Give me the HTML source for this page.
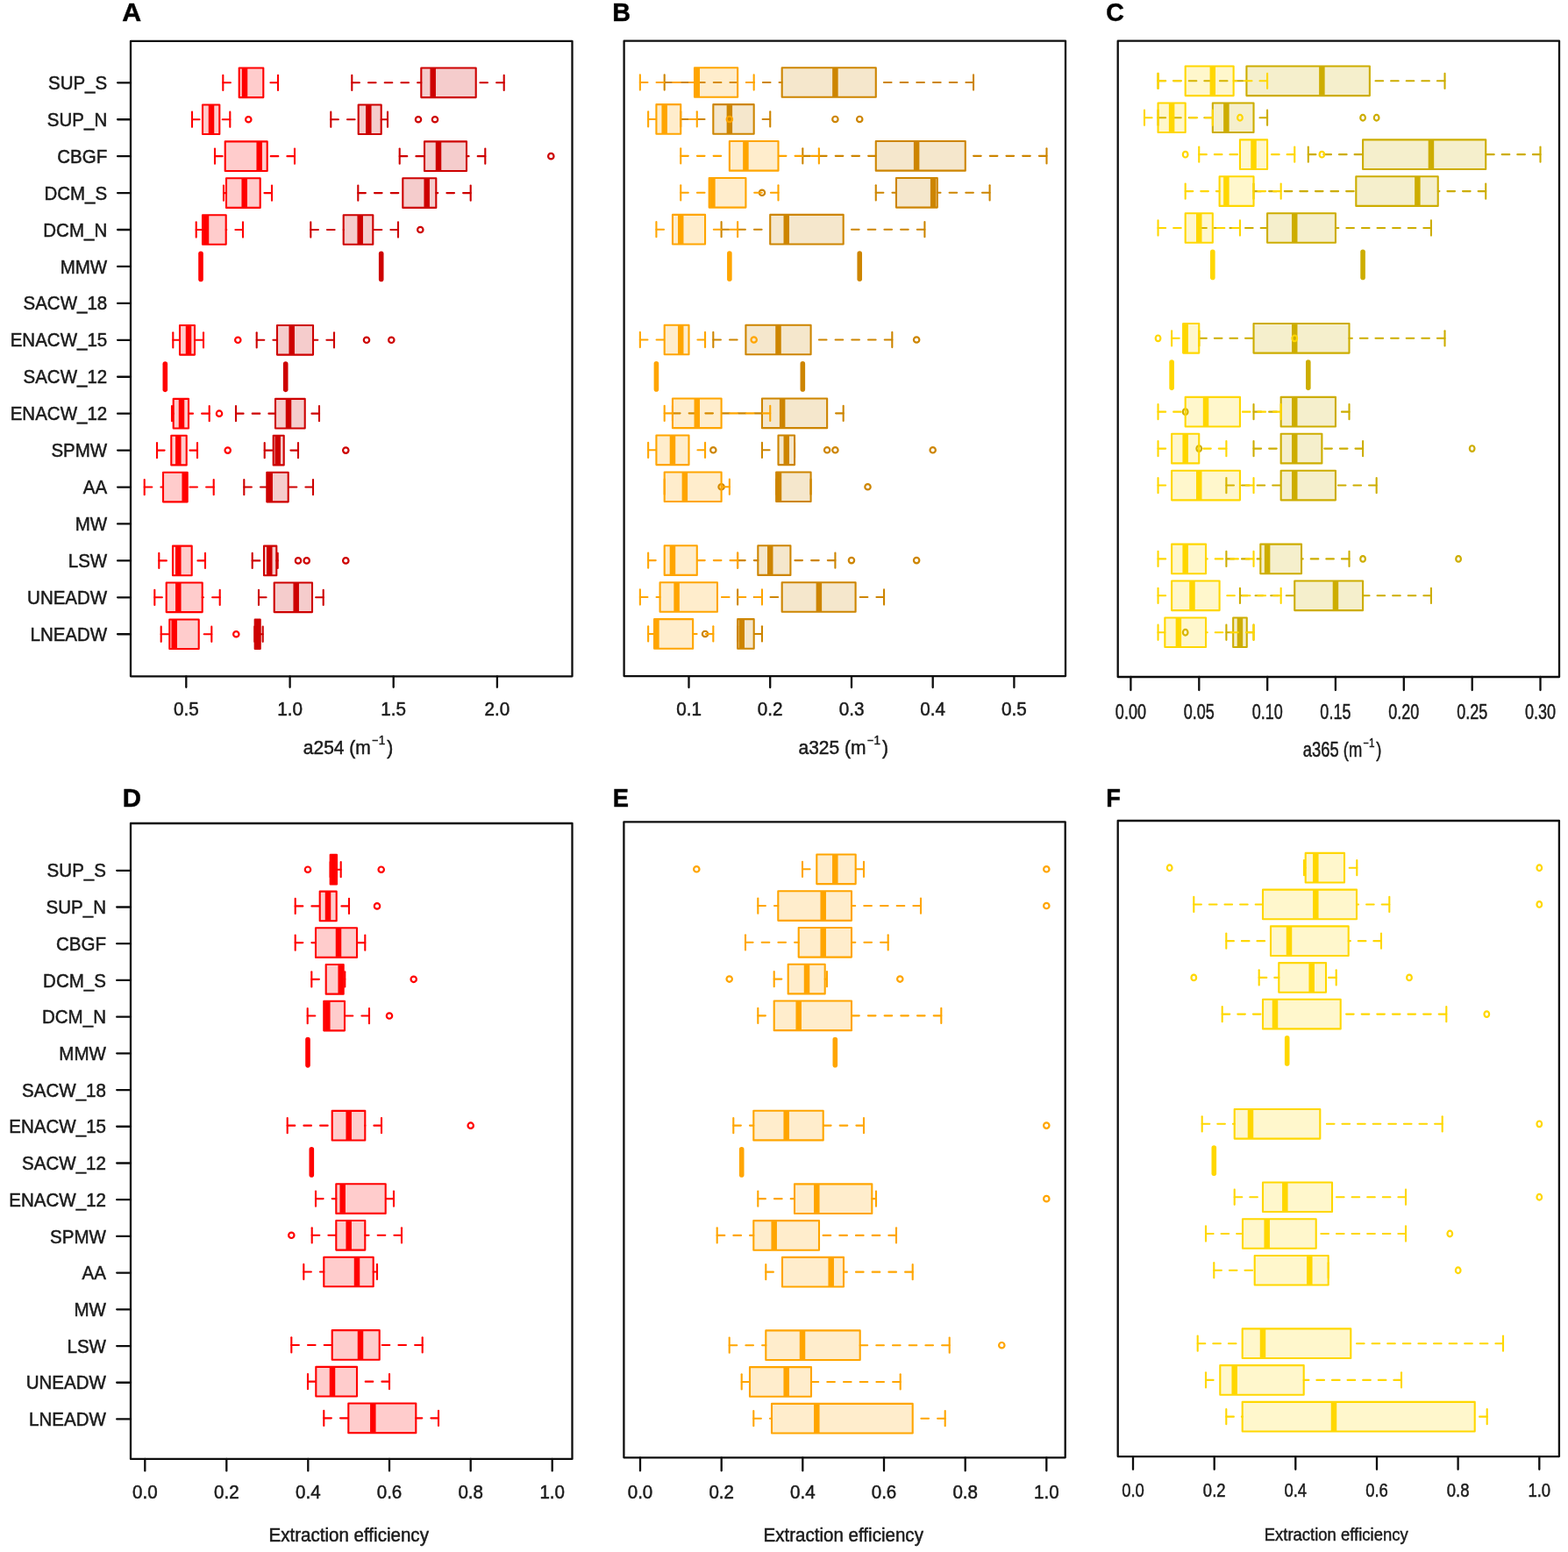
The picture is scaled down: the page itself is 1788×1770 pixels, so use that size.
<!DOCTYPE html>
<html lang="en">
<head>
<meta charset="utf-8">
<title>Box plots</title>
<style>
html,body{margin:0;padding:0;background:#fff;}
body{width:1788px;height:1770px;overflow:hidden;}
svg{display:block;font-family:"Liberation Sans",Arial,Helvetica,sans-serif;fill:#1a1a1a;}
text{stroke:#1a1a1a;stroke-width:0.5px;paint-order:stroke}
.o{stroke-width:2.2}
.m .w{stroke-dasharray:8.6 10.1;stroke-linecap:round}
.n .w{stroke-dasharray:8.6 9;stroke-linecap:round}
.c{stroke-linecap:round}
</style>
</head>
<body>
<svg width="1788" height="1770" viewBox="0 0 1788 1770">
<rect width="1788" height="1770" fill="#fff"/>
<g id="panelA">
<g class="m" stroke="#cd0000" stroke-width="2.1" fill="none">
<rect x="480.3" y="77.5" width="62.4" height="33.6" fill="rgba(205,0,0,0.2)" stroke="none"/>
<line x1="493.7" y1="77.5" x2="493.7" y2="111.1" stroke-width="6.5"/>
<line class="w" x1="401.3" y1="94.3" x2="480.3" y2="94.3"/>
<line class="w" x1="574.7" y1="94.3" x2="542.7" y2="94.3"/>
<line class="c" x1="401.3" y1="85.7" x2="401.3" y2="102.9"/>
<line class="c" x1="574.7" y1="85.7" x2="574.7" y2="102.9"/>
<rect x="480.3" y="77.5" width="62.4" height="33.6" stroke-linejoin="round"/>
<rect x="408.7" y="119.43" width="26" height="33.6" fill="rgba(205,0,0,0.2)" stroke="none"/>
<line x1="420.3" y1="119.43" x2="420.3" y2="153.03" stroke-width="6.5"/>
<line class="w" x1="377.3" y1="136.23" x2="408.7" y2="136.23"/>
<line class="w" x1="442" y1="136.23" x2="434.7" y2="136.23"/>
<line class="c" x1="377.3" y1="127.63" x2="377.3" y2="144.83"/>
<line class="c" x1="442" y1="127.63" x2="442" y2="144.83"/>
<rect x="408.7" y="119.43" width="26" height="33.6" stroke-linejoin="round"/>
<circle class="o" cx="477" cy="136.23" r="3.2"/>
<circle class="o" cx="496" cy="136.23" r="3.2"/>
<rect x="484" y="161.36" width="48" height="33.6" fill="rgba(205,0,0,0.2)" stroke="none"/>
<line x1="500" y1="161.36" x2="500" y2="194.96" stroke-width="6.5"/>
<line class="w" x1="455.7" y1="178.16" x2="484" y2="178.16"/>
<line class="w" x1="553.3" y1="178.16" x2="532" y2="178.16"/>
<line class="c" x1="455.7" y1="169.56" x2="455.7" y2="186.76"/>
<line class="c" x1="553.3" y1="169.56" x2="553.3" y2="186.76"/>
<rect x="484" y="161.36" width="48" height="33.6" stroke-linejoin="round"/>
<circle class="o" cx="628.3" cy="178.16" r="3.2"/>
<rect x="459.3" y="203.29" width="38" height="33.6" fill="rgba(205,0,0,0.2)" stroke="none"/>
<line x1="486.7" y1="203.29" x2="486.7" y2="236.89" stroke-width="6.5"/>
<line class="w" x1="408.3" y1="220.09" x2="459.3" y2="220.09"/>
<line class="w" x1="536.7" y1="220.09" x2="497.3" y2="220.09"/>
<line class="c" x1="408.3" y1="211.49" x2="408.3" y2="228.69"/>
<line class="c" x1="536.7" y1="211.49" x2="536.7" y2="228.69"/>
<rect x="459.3" y="203.29" width="38" height="33.6" stroke-linejoin="round"/>
<rect x="391.7" y="245.22" width="33.6" height="33.6" fill="rgba(205,0,0,0.2)" stroke="none"/>
<line x1="410.7" y1="245.22" x2="410.7" y2="278.82" stroke-width="6.5"/>
<line class="w" x1="354.3" y1="262.02" x2="391.7" y2="262.02"/>
<line class="w" x1="454" y1="262.02" x2="425.3" y2="262.02"/>
<line class="c" x1="354.3" y1="253.42" x2="354.3" y2="270.62"/>
<line class="c" x1="454" y1="253.42" x2="454" y2="270.62"/>
<rect x="391.7" y="245.22" width="33.6" height="33.6" stroke-linejoin="round"/>
<circle class="o" cx="479.3" cy="262.02" r="3.2"/>
<line x1="434.7" y1="289.35" x2="434.7" y2="318.55" stroke-width="5.6" stroke-linecap="round"/>
<rect x="316" y="371.01" width="41" height="33.6" fill="rgba(205,0,0,0.2)" stroke="none"/>
<line x1="332.7" y1="371.01" x2="332.7" y2="404.61" stroke-width="6.5"/>
<line class="w" x1="292.7" y1="387.81" x2="316" y2="387.81"/>
<line class="w" x1="381" y1="387.81" x2="357" y2="387.81"/>
<line class="c" x1="292.7" y1="379.21" x2="292.7" y2="396.41"/>
<line class="c" x1="381" y1="379.21" x2="381" y2="396.41"/>
<rect x="316" y="371.01" width="41" height="33.6" stroke-linejoin="round"/>
<circle class="o" cx="418" cy="387.81" r="3.2"/>
<circle class="o" cx="446.3" cy="387.81" r="3.2"/>
<line x1="325.7" y1="415.14" x2="325.7" y2="444.34" stroke-width="5.6" stroke-linecap="round"/>
<rect x="314" y="454.87" width="33.7" height="33.6" fill="rgba(205,0,0,0.2)" stroke="none"/>
<line x1="329" y1="454.87" x2="329" y2="488.47" stroke-width="6.5"/>
<line class="w" x1="269" y1="471.67" x2="314" y2="471.67"/>
<line class="w" x1="364" y1="471.67" x2="347.7" y2="471.67"/>
<line class="c" x1="269" y1="463.07" x2="269" y2="480.27"/>
<line class="c" x1="364" y1="463.07" x2="364" y2="480.27"/>
<rect x="314" y="454.87" width="33.7" height="33.6" stroke-linejoin="round"/>
<rect x="311.7" y="496.8" width="12" height="33.6" fill="rgba(205,0,0,0.2)" stroke="none"/>
<line x1="316.7" y1="496.8" x2="316.7" y2="530.4" stroke-width="6.5"/>
<line class="w" x1="301.7" y1="513.6" x2="311.7" y2="513.6"/>
<line class="w" x1="340" y1="513.6" x2="323.7" y2="513.6"/>
<line class="c" x1="301.7" y1="505" x2="301.7" y2="522.2"/>
<line class="c" x1="340" y1="505" x2="340" y2="522.2"/>
<rect x="311.7" y="496.8" width="12" height="33.6" stroke-linejoin="round"/>
<circle class="o" cx="394.3" cy="513.6" r="3.2"/>
<rect x="304.3" y="538.73" width="24.4" height="33.6" fill="rgba(205,0,0,0.2)" stroke="none"/>
<line x1="307.7" y1="538.73" x2="307.7" y2="572.33" stroke-width="6.5"/>
<line class="w" x1="278.3" y1="555.53" x2="304.3" y2="555.53"/>
<line class="w" x1="357" y1="555.53" x2="328.7" y2="555.53"/>
<line class="c" x1="278.3" y1="546.93" x2="278.3" y2="564.13"/>
<line class="c" x1="357" y1="546.93" x2="357" y2="564.13"/>
<rect x="304.3" y="538.73" width="24.4" height="33.6" stroke-linejoin="round"/>
<rect x="301" y="622.59" width="14.3" height="33.6" fill="rgba(205,0,0,0.2)" stroke="none"/>
<line x1="307.3" y1="622.59" x2="307.3" y2="656.19" stroke-width="6.5"/>
<line class="w" x1="287.7" y1="639.39" x2="301" y2="639.39"/>
<line class="w" x1="316.7" y1="639.39" x2="315.3" y2="639.39"/>
<line class="c" x1="287.7" y1="630.79" x2="287.7" y2="647.99"/>
<line class="c" x1="316.7" y1="630.79" x2="316.7" y2="647.99"/>
<rect x="301" y="622.59" width="14.3" height="33.6" stroke-linejoin="round"/>
<circle class="o" cx="340" cy="639.39" r="3.2"/>
<circle class="o" cx="349.7" cy="639.39" r="3.2"/>
<circle class="o" cx="394.3" cy="639.39" r="3.2"/>
<rect x="312.7" y="664.52" width="43.3" height="33.6" fill="rgba(205,0,0,0.2)" stroke="none"/>
<line x1="337.7" y1="664.52" x2="337.7" y2="698.12" stroke-width="6.5"/>
<line class="w" x1="295" y1="681.32" x2="312.7" y2="681.32"/>
<line class="w" x1="368.7" y1="681.32" x2="356" y2="681.32"/>
<line class="c" x1="295" y1="672.72" x2="295" y2="689.92"/>
<line class="c" x1="368.7" y1="672.72" x2="368.7" y2="689.92"/>
<rect x="312.7" y="664.52" width="43.3" height="33.6" stroke-linejoin="round"/>
<rect x="290.7" y="706.45" width="6" height="33.6" fill="rgba(205,0,0,0.2)" stroke="none"/>
<line x1="293.3" y1="706.45" x2="293.3" y2="740.05" stroke-width="6.5"/>
<line class="w" x1="299.7" y1="723.25" x2="296.7" y2="723.25"/>
<line class="c" x1="290.3" y1="714.65" x2="290.3" y2="731.85"/>
<line class="c" x1="299.7" y1="714.65" x2="299.7" y2="731.85"/>
<rect x="290.7" y="706.45" width="6" height="33.6" stroke-linejoin="round"/>
</g>
<g class="m" stroke="#ff0000" stroke-width="2.1" fill="none">
<rect x="272.7" y="77.5" width="27.6" height="33.6" fill="rgba(255,0,0,0.2)" stroke="none"/>
<line x1="279" y1="77.5" x2="279" y2="111.1" stroke-width="6.5"/>
<line class="w" x1="254.3" y1="94.3" x2="272.7" y2="94.3"/>
<line class="w" x1="317" y1="94.3" x2="300.3" y2="94.3"/>
<line class="c" x1="254.3" y1="85.7" x2="254.3" y2="102.9"/>
<line class="c" x1="317" y1="85.7" x2="317" y2="102.9"/>
<rect x="272.7" y="77.5" width="27.6" height="33.6" stroke-linejoin="round"/>
<rect x="231" y="119.43" width="19.3" height="33.6" fill="rgba(255,0,0,0.2)" stroke="none"/>
<line x1="241" y1="119.43" x2="241" y2="153.03" stroke-width="6.5"/>
<line class="w" x1="219" y1="136.23" x2="231" y2="136.23"/>
<line class="w" x1="262.3" y1="136.23" x2="250.3" y2="136.23"/>
<line class="c" x1="219" y1="127.63" x2="219" y2="144.83"/>
<line class="c" x1="262.3" y1="127.63" x2="262.3" y2="144.83"/>
<rect x="231" y="119.43" width="19.3" height="33.6" stroke-linejoin="round"/>
<circle class="o" cx="283.3" cy="136.23" r="3.2"/>
<rect x="256.7" y="161.36" width="48" height="33.6" fill="rgba(255,0,0,0.2)" stroke="none"/>
<line x1="295.7" y1="161.36" x2="295.7" y2="194.96" stroke-width="6.5"/>
<line class="w" x1="245" y1="178.16" x2="256.7" y2="178.16"/>
<line class="w" x1="336" y1="178.16" x2="304.7" y2="178.16"/>
<line class="c" x1="245" y1="169.56" x2="245" y2="186.76"/>
<line class="c" x1="336" y1="169.56" x2="336" y2="186.76"/>
<rect x="256.7" y="161.36" width="48" height="33.6" stroke-linejoin="round"/>
<rect x="258" y="203.29" width="38.7" height="33.6" fill="rgba(255,0,0,0.2)" stroke="none"/>
<line x1="278.7" y1="203.29" x2="278.7" y2="236.89" stroke-width="6.5"/>
<line class="w" x1="255" y1="220.09" x2="258" y2="220.09"/>
<line class="w" x1="310" y1="220.09" x2="296.7" y2="220.09"/>
<line class="c" x1="255" y1="211.49" x2="255" y2="228.69"/>
<line class="c" x1="310" y1="211.49" x2="310" y2="228.69"/>
<rect x="258" y="203.29" width="38.7" height="33.6" stroke-linejoin="round"/>
<rect x="231" y="245.22" width="26.7" height="33.6" fill="rgba(255,0,0,0.2)" stroke="none"/>
<line x1="235" y1="245.22" x2="235" y2="278.82" stroke-width="6.5"/>
<line class="w" x1="223.7" y1="262.02" x2="231" y2="262.02"/>
<line class="w" x1="277" y1="262.02" x2="257.7" y2="262.02"/>
<line class="c" x1="223.7" y1="253.42" x2="223.7" y2="270.62"/>
<line class="c" x1="277" y1="253.42" x2="277" y2="270.62"/>
<rect x="231" y="245.22" width="26.7" height="33.6" stroke-linejoin="round"/>
<line x1="229" y1="289.35" x2="229" y2="318.55" stroke-width="5.6" stroke-linecap="round"/>
<rect x="205" y="371.01" width="17" height="33.6" fill="rgba(255,0,0,0.2)" stroke="none"/>
<line x1="215" y1="371.01" x2="215" y2="404.61" stroke-width="6.5"/>
<line class="w" x1="197.3" y1="387.81" x2="205" y2="387.81"/>
<line class="w" x1="232" y1="387.81" x2="222" y2="387.81"/>
<line class="c" x1="197.3" y1="379.21" x2="197.3" y2="396.41"/>
<line class="c" x1="232" y1="379.21" x2="232" y2="396.41"/>
<rect x="205" y="371.01" width="17" height="33.6" stroke-linejoin="round"/>
<circle class="o" cx="271.3" cy="387.81" r="3.2"/>
<line x1="188.3" y1="415.14" x2="188.3" y2="444.34" stroke-width="5.6" stroke-linecap="round"/>
<rect x="197.7" y="454.87" width="17.3" height="33.6" fill="rgba(255,0,0,0.2)" stroke="none"/>
<line x1="207" y1="454.87" x2="207" y2="488.47" stroke-width="6.5"/>
<line class="w" x1="196" y1="471.67" x2="197.7" y2="471.67"/>
<line class="w" x1="238.7" y1="471.67" x2="215" y2="471.67"/>
<line class="c" x1="196" y1="463.07" x2="196" y2="480.27"/>
<line class="c" x1="238.7" y1="463.07" x2="238.7" y2="480.27"/>
<rect x="197.7" y="454.87" width="17.3" height="33.6" stroke-linejoin="round"/>
<circle class="o" cx="250" cy="471.67" r="3.2"/>
<rect x="195.3" y="496.8" width="17.4" height="33.6" fill="rgba(255,0,0,0.2)" stroke="none"/>
<line x1="203.3" y1="496.8" x2="203.3" y2="530.4" stroke-width="6.5"/>
<line class="w" x1="179" y1="513.6" x2="195.3" y2="513.6"/>
<line class="w" x1="225" y1="513.6" x2="212.7" y2="513.6"/>
<line class="c" x1="179" y1="505" x2="179" y2="522.2"/>
<line class="c" x1="225" y1="505" x2="225" y2="522.2"/>
<rect x="195.3" y="496.8" width="17.4" height="33.6" stroke-linejoin="round"/>
<circle class="o" cx="259.7" cy="513.6" r="3.2"/>
<rect x="186" y="538.73" width="27.7" height="33.6" fill="rgba(255,0,0,0.2)" stroke="none"/>
<line x1="210.7" y1="538.73" x2="210.7" y2="572.33" stroke-width="6.5"/>
<line class="w" x1="164.7" y1="555.53" x2="186" y2="555.53"/>
<line class="w" x1="243.7" y1="555.53" x2="213.7" y2="555.53"/>
<line class="c" x1="164.7" y1="546.93" x2="164.7" y2="564.13"/>
<line class="c" x1="243.7" y1="546.93" x2="243.7" y2="564.13"/>
<rect x="186" y="538.73" width="27.7" height="33.6" stroke-linejoin="round"/>
<rect x="197" y="622.59" width="21.7" height="33.6" fill="rgba(255,0,0,0.2)" stroke="none"/>
<line x1="203.3" y1="622.59" x2="203.3" y2="656.19" stroke-width="6.5"/>
<line class="w" x1="181.3" y1="639.39" x2="197" y2="639.39"/>
<line class="w" x1="234" y1="639.39" x2="218.7" y2="639.39"/>
<line class="c" x1="181.3" y1="630.79" x2="181.3" y2="647.99"/>
<line class="c" x1="234" y1="630.79" x2="234" y2="647.99"/>
<rect x="197" y="622.59" width="21.7" height="33.6" stroke-linejoin="round"/>
<rect x="189.7" y="664.52" width="41" height="33.6" fill="rgba(255,0,0,0.2)" stroke="none"/>
<line x1="203.3" y1="664.52" x2="203.3" y2="698.12" stroke-width="6.5"/>
<line class="w" x1="176.3" y1="681.32" x2="189.7" y2="681.32"/>
<line class="w" x1="250.7" y1="681.32" x2="230.7" y2="681.32"/>
<line class="c" x1="176.3" y1="672.72" x2="176.3" y2="689.92"/>
<line class="c" x1="250.7" y1="672.72" x2="250.7" y2="689.92"/>
<rect x="189.7" y="664.52" width="41" height="33.6" stroke-linejoin="round"/>
<rect x="193.3" y="706.45" width="33.4" height="33.6" fill="rgba(255,0,0,0.2)" stroke="none"/>
<line x1="198.7" y1="706.45" x2="198.7" y2="740.05" stroke-width="6.5"/>
<line class="w" x1="183.7" y1="723.25" x2="193.3" y2="723.25"/>
<line class="w" x1="241.3" y1="723.25" x2="226.7" y2="723.25"/>
<line class="c" x1="183.7" y1="714.65" x2="183.7" y2="731.85"/>
<line class="c" x1="241.3" y1="714.65" x2="241.3" y2="731.85"/>
<rect x="193.3" y="706.45" width="33.4" height="33.6" stroke-linejoin="round"/>
<circle class="o" cx="269.3" cy="723.25" r="3.2"/>
</g>
<rect x="149" y="46.9" width="503.5" height="724.4" fill="none" stroke="#0d0d0d" stroke-width="2.3" stroke-linejoin="round"/>
<path d="M212.3 771.3v12.5M330.6 771.3v12.5M448.7 771.3v12.5M566.9 771.3v12.5" stroke="#0d0d0d" stroke-width="2.3" stroke-linecap="round" fill="none"/>
<text transform="translate(212.3 815.9) scale(0.94 1)" text-anchor="middle" font-size="22" font-weight="normal">0.5</text>
<text transform="translate(330.6 815.9) scale(0.94 1)" text-anchor="middle" font-size="22" font-weight="normal">1.0</text>
<text transform="translate(448.7 815.9) scale(0.94 1)" text-anchor="middle" font-size="22" font-weight="normal">1.5</text>
<text transform="translate(566.9 815.9) scale(0.94 1)" text-anchor="middle" font-size="22" font-weight="normal">2.0</text>
<text transform="translate(397 859.9) scale(0.93 1)" text-anchor="middle" font-size="22.6" font-weight="normal">a254 (m<tspan dy="-10.62" dx="1.6" font-size="13.11">−</tspan><tspan font-size="14.46" dx="0.3">1</tspan><tspan dy="10.62" dx="2.2">)</tspan></text>
<path d="M149 94.3h-14.9M149 136.23h-14.9M149 178.16h-14.9M149 220.09h-14.9M149 262.02h-14.9M149 303.95h-14.9M149 345.88h-14.9M149 387.81h-14.9M149 429.74h-14.9M149 471.67h-14.9M149 513.6h-14.9M149 555.53h-14.9M149 597.46h-14.9M149 639.39h-14.9M149 681.32h-14.9M149 723.25h-14.9" stroke="#0d0d0d" stroke-width="2.3" stroke-linecap="round" fill="none"/>
<text transform="translate(122.2 101.9) scale(0.95 1)" text-anchor="end" font-size="21.6" font-weight="normal">SUP_S</text>
<text transform="translate(122.2 143.83) scale(0.95 1)" text-anchor="end" font-size="21.6" font-weight="normal">SUP_N</text>
<text transform="translate(122.2 185.76) scale(0.95 1)" text-anchor="end" font-size="21.6" font-weight="normal">CBGF</text>
<text transform="translate(122.2 227.69) scale(0.95 1)" text-anchor="end" font-size="21.6" font-weight="normal">DCM_S</text>
<text transform="translate(122.2 269.62) scale(0.95 1)" text-anchor="end" font-size="21.6" font-weight="normal">DCM_N</text>
<text transform="translate(122.2 311.55) scale(0.95 1)" text-anchor="end" font-size="21.6" font-weight="normal">MMW</text>
<text transform="translate(122.2 353.48) scale(0.95 1)" text-anchor="end" font-size="21.6" font-weight="normal">SACW_18</text>
<text transform="translate(122.2 395.41) scale(0.95 1)" text-anchor="end" font-size="21.6" font-weight="normal">ENACW_15</text>
<text transform="translate(122.2 437.34) scale(0.95 1)" text-anchor="end" font-size="21.6" font-weight="normal">SACW_12</text>
<text transform="translate(122.2 479.27) scale(0.95 1)" text-anchor="end" font-size="21.6" font-weight="normal">ENACW_12</text>
<text transform="translate(122.2 521.2) scale(0.95 1)" text-anchor="end" font-size="21.6" font-weight="normal">SPMW</text>
<text transform="translate(122.2 563.13) scale(0.95 1)" text-anchor="end" font-size="21.6" font-weight="normal">AA</text>
<text transform="translate(122.2 605.06) scale(0.95 1)" text-anchor="end" font-size="21.6" font-weight="normal">MW</text>
<text transform="translate(122.2 646.99) scale(0.95 1)" text-anchor="end" font-size="21.6" font-weight="normal">LSW</text>
<text transform="translate(122.2 688.92) scale(0.95 1)" text-anchor="end" font-size="21.6" font-weight="normal">UNEADW</text>
<text transform="translate(122.2 730.85) scale(0.95 1)" text-anchor="end" font-size="21.6" font-weight="normal">LNEADW</text>
<text x="139.2" y="24.1" text-anchor="start" font-size="30.3" font-weight="bold" fill="#000" stroke="none">A</text>
</g>
<g id="panelB">
<g class="m" stroke="#cd8500" stroke-width="2.1" fill="none">
<rect x="891.68" y="77.2" width="107.1" height="33.6" fill="rgba(205,133,0,0.2)" stroke="none"/>
<line x1="952.41" y1="77.2" x2="952.41" y2="110.8" stroke-width="6.5"/>
<line class="w" x1="757.69" y1="94" x2="891.68" y2="94"/>
<line class="w" x1="1110.04" y1="94" x2="998.77" y2="94"/>
<line class="c" x1="757.69" y1="85.4" x2="757.69" y2="102.6"/>
<line class="c" x1="1110.04" y1="85.4" x2="1110.04" y2="102.6"/>
<rect x="891.68" y="77.2" width="107.1" height="33.6" stroke-linejoin="round"/>
<rect x="813.32" y="119.13" width="46.36" height="33.6" fill="rgba(205,133,0,0.2)" stroke="none"/>
<line x1="831.87" y1="119.13" x2="831.87" y2="152.73" stroke-width="6.5"/>
<line class="w" x1="776.23" y1="135.93" x2="813.32" y2="135.93"/>
<line class="w" x1="878.23" y1="135.93" x2="859.68" y2="135.93"/>
<line class="c" x1="776.23" y1="127.33" x2="776.23" y2="144.53"/>
<line class="c" x1="878.23" y1="127.33" x2="878.23" y2="144.53"/>
<rect x="813.32" y="119.13" width="46.36" height="33.6" stroke-linejoin="round"/>
<circle class="o" cx="952.41" cy="135.93" r="3.2"/>
<circle class="o" cx="980.23" cy="135.93" r="3.2"/>
<rect x="998.77" y="161.06" width="102" height="33.6" fill="rgba(205,133,0,0.2)" stroke="none"/>
<line x1="1045.13" y1="161.06" x2="1045.13" y2="194.66" stroke-width="6.5"/>
<line class="w" x1="915.32" y1="177.86" x2="998.77" y2="177.86"/>
<line class="w" x1="1193.49" y1="177.86" x2="1100.77" y2="177.86"/>
<line class="c" x1="915.32" y1="169.26" x2="915.32" y2="186.46"/>
<line class="c" x1="1193.49" y1="169.26" x2="1193.49" y2="186.46"/>
<rect x="998.77" y="161.06" width="102" height="33.6" stroke-linejoin="round"/>
<rect x="1021.95" y="202.99" width="46.83" height="33.6" fill="rgba(205,133,0,0.2)" stroke="none"/>
<line x1="1064.14" y1="202.99" x2="1064.14" y2="236.59" stroke-width="6.5"/>
<line class="w" x1="998.77" y1="219.79" x2="1021.95" y2="219.79"/>
<line class="w" x1="1128.59" y1="219.79" x2="1068.78" y2="219.79"/>
<line class="c" x1="998.77" y1="211.19" x2="998.77" y2="228.39"/>
<line class="c" x1="1128.59" y1="211.19" x2="1128.59" y2="228.39"/>
<rect x="1021.95" y="202.99" width="46.83" height="33.6" stroke-linejoin="round"/>
<circle class="o" cx="868.96" cy="219.79" r="3.2"/>
<rect x="878.23" y="244.92" width="83.45" height="33.6" fill="rgba(205,133,0,0.2)" stroke="none"/>
<line x1="896.77" y1="244.92" x2="896.77" y2="278.52" stroke-width="6.5"/>
<line class="w" x1="822.6" y1="261.72" x2="878.23" y2="261.72"/>
<line class="w" x1="1054.41" y1="261.72" x2="961.68" y2="261.72"/>
<line class="c" x1="822.6" y1="253.12" x2="822.6" y2="270.32"/>
<line class="c" x1="1054.41" y1="253.12" x2="1054.41" y2="270.32"/>
<rect x="878.23" y="244.92" width="83.45" height="33.6" stroke-linejoin="round"/>
<line x1="980.23" y1="289.05" x2="980.23" y2="318.25" stroke-width="5.6" stroke-linecap="round"/>
<rect x="850.41" y="370.71" width="74.18" height="33.6" fill="rgba(205,133,0,0.2)" stroke="none"/>
<line x1="887.5" y1="370.71" x2="887.5" y2="404.31" stroke-width="6.5"/>
<line class="w" x1="813.32" y1="387.51" x2="850.41" y2="387.51"/>
<line class="w" x1="1017.32" y1="387.51" x2="924.59" y2="387.51"/>
<line class="c" x1="813.32" y1="378.91" x2="813.32" y2="396.11"/>
<line class="c" x1="1017.32" y1="378.91" x2="1017.32" y2="396.11"/>
<rect x="850.41" y="370.71" width="74.18" height="33.6" stroke-linejoin="round"/>
<circle class="o" cx="1045.13" cy="387.51" r="3.2"/>
<line x1="915.32" y1="414.84" x2="915.32" y2="444.04" stroke-width="5.6" stroke-linecap="round"/>
<rect x="868.96" y="454.57" width="74.18" height="33.6" fill="rgba(205,133,0,0.2)" stroke="none"/>
<line x1="892.14" y1="454.57" x2="892.14" y2="488.17" stroke-width="6.5"/>
<line class="w" x1="766.96" y1="471.37" x2="868.96" y2="471.37"/>
<line class="w" x1="961.68" y1="471.37" x2="943.14" y2="471.37"/>
<line class="c" x1="766.96" y1="462.77" x2="766.96" y2="479.97"/>
<line class="c" x1="961.68" y1="462.77" x2="961.68" y2="479.97"/>
<rect x="868.96" y="454.57" width="74.18" height="33.6" stroke-linejoin="round"/>
<rect x="887.5" y="496.5" width="18.55" height="33.6" fill="rgba(205,133,0,0.2)" stroke="none"/>
<line x1="896.77" y1="496.5" x2="896.77" y2="530.1" stroke-width="6.5"/>
<line class="w" x1="868.96" y1="513.3" x2="887.5" y2="513.3"/>
<line class="c" x1="868.96" y1="504.7" x2="868.96" y2="521.9"/>
<line class="c" x1="906.05" y1="504.7" x2="906.05" y2="521.9"/>
<rect x="887.5" y="496.5" width="18.55" height="33.6" stroke-linejoin="round"/>
<circle class="o" cx="813.32" cy="513.3" r="3.2"/>
<circle class="o" cx="943.14" cy="513.3" r="3.2"/>
<circle class="o" cx="952.41" cy="513.3" r="3.2"/>
<circle class="o" cx="1063.68" cy="513.3" r="3.2"/>
<rect x="885.18" y="538.43" width="39.41" height="33.6" fill="rgba(205,133,0,0.2)" stroke="none"/>
<line x1="887.97" y1="538.43" x2="887.97" y2="572.03" stroke-width="6.5"/>
<line class="c" x1="885.18" y1="546.63" x2="885.18" y2="563.83"/>
<line class="c" x1="924.59" y1="546.63" x2="924.59" y2="563.83"/>
<rect x="885.18" y="538.43" width="39.41" height="33.6" stroke-linejoin="round"/>
<circle class="o" cx="822.6" cy="555.23" r="3.2"/>
<circle class="o" cx="989.5" cy="555.23" r="3.2"/>
<rect x="864.32" y="622.29" width="37.09" height="33.6" fill="rgba(205,133,0,0.2)" stroke="none"/>
<line x1="878.23" y1="622.29" x2="878.23" y2="655.89" stroke-width="6.5"/>
<line class="w" x1="841.14" y1="639.09" x2="864.32" y2="639.09"/>
<line class="w" x1="952.41" y1="639.09" x2="901.41" y2="639.09"/>
<line class="c" x1="841.14" y1="630.49" x2="841.14" y2="647.69"/>
<line class="c" x1="952.41" y1="630.49" x2="952.41" y2="647.69"/>
<rect x="864.32" y="622.29" width="37.09" height="33.6" stroke-linejoin="round"/>
<circle class="o" cx="970.95" cy="639.09" r="3.2"/>
<circle class="o" cx="1045.13" cy="639.09" r="3.2"/>
<rect x="891.68" y="664.22" width="83.92" height="33.6" fill="rgba(205,133,0,0.2)" stroke="none"/>
<line x1="933.87" y1="664.22" x2="933.87" y2="697.82" stroke-width="6.5"/>
<line class="w" x1="841.14" y1="681.02" x2="891.68" y2="681.02"/>
<line class="w" x1="1008.05" y1="681.02" x2="975.59" y2="681.02"/>
<line class="c" x1="841.14" y1="672.42" x2="841.14" y2="689.62"/>
<line class="c" x1="1008.05" y1="672.42" x2="1008.05" y2="689.62"/>
<rect x="891.68" y="664.22" width="83.92" height="33.6" stroke-linejoin="round"/>
<rect x="841.14" y="706.15" width="18.54" height="33.6" fill="rgba(205,133,0,0.2)" stroke="none"/>
<line x1="845.78" y1="706.15" x2="845.78" y2="739.75" stroke-width="6.5"/>
<line class="w" x1="868.96" y1="722.95" x2="859.68" y2="722.95"/>
<line class="c" x1="841.14" y1="714.35" x2="841.14" y2="731.55"/>
<line class="c" x1="868.96" y1="714.35" x2="868.96" y2="731.55"/>
<rect x="841.14" y="706.15" width="18.54" height="33.6" stroke-linejoin="round"/>
<circle class="o" cx="804.05" cy="722.95" r="3.2"/>
</g>
<g class="m" stroke="#ffa500" stroke-width="2.1" fill="none">
<rect x="792" y="77.2" width="49.14" height="33.6" fill="rgba(255,165,0,0.2)" stroke="none"/>
<line x1="794.78" y1="77.2" x2="794.78" y2="110.8" stroke-width="6.5"/>
<line class="w" x1="729.87" y1="94" x2="792" y2="94"/>
<line class="w" x1="859.68" y1="94" x2="841.14" y2="94"/>
<line class="c" x1="729.87" y1="85.4" x2="729.87" y2="102.6"/>
<line class="c" x1="859.68" y1="85.4" x2="859.68" y2="102.6"/>
<rect x="792" y="77.2" width="49.14" height="33.6" stroke-linejoin="round"/>
<rect x="748.41" y="119.13" width="27.82" height="33.6" fill="rgba(255,165,0,0.2)" stroke="none"/>
<line x1="757.69" y1="119.13" x2="757.69" y2="152.73" stroke-width="6.5"/>
<line class="w" x1="739.14" y1="135.93" x2="748.41" y2="135.93"/>
<line class="w" x1="794.78" y1="135.93" x2="776.23" y2="135.93"/>
<line class="c" x1="739.14" y1="127.33" x2="739.14" y2="144.53"/>
<line class="c" x1="794.78" y1="127.33" x2="794.78" y2="144.53"/>
<rect x="748.41" y="119.13" width="27.82" height="33.6" stroke-linejoin="round"/>
<circle class="o" cx="831.87" cy="135.93" r="3.2"/>
<rect x="831.87" y="161.06" width="55.63" height="33.6" fill="rgba(255,165,0,0.2)" stroke="none"/>
<line x1="850.41" y1="161.06" x2="850.41" y2="194.66" stroke-width="6.5"/>
<line class="w" x1="776.23" y1="177.86" x2="831.87" y2="177.86"/>
<line class="w" x1="933.87" y1="177.86" x2="887.5" y2="177.86"/>
<line class="c" x1="776.23" y1="169.26" x2="776.23" y2="186.46"/>
<line class="c" x1="933.87" y1="169.26" x2="933.87" y2="186.46"/>
<rect x="831.87" y="161.06" width="55.63" height="33.6" stroke-linejoin="round"/>
<rect x="808.69" y="202.99" width="41.73" height="33.6" fill="rgba(255,165,0,0.2)" stroke="none"/>
<line x1="812.4" y1="202.99" x2="812.4" y2="236.59" stroke-width="6.5"/>
<line class="w" x1="776.23" y1="219.79" x2="808.69" y2="219.79"/>
<line class="w" x1="887.5" y1="219.79" x2="850.41" y2="219.79"/>
<line class="c" x1="776.23" y1="211.19" x2="776.23" y2="228.39"/>
<line class="c" x1="887.5" y1="211.19" x2="887.5" y2="228.39"/>
<rect x="808.69" y="202.99" width="41.73" height="33.6" stroke-linejoin="round"/>
<rect x="766.96" y="244.92" width="37.09" height="33.6" fill="rgba(255,165,0,0.2)" stroke="none"/>
<line x1="776.23" y1="244.92" x2="776.23" y2="278.52" stroke-width="6.5"/>
<line class="w" x1="748.41" y1="261.72" x2="766.96" y2="261.72"/>
<line class="w" x1="841.14" y1="261.72" x2="804.05" y2="261.72"/>
<line class="c" x1="748.41" y1="253.12" x2="748.41" y2="270.32"/>
<line class="c" x1="841.14" y1="253.12" x2="841.14" y2="270.32"/>
<rect x="766.96" y="244.92" width="37.09" height="33.6" stroke-linejoin="round"/>
<line x1="831.87" y1="289.05" x2="831.87" y2="318.25" stroke-width="5.6" stroke-linecap="round"/>
<rect x="757.69" y="370.71" width="27.82" height="33.6" fill="rgba(255,165,0,0.2)" stroke="none"/>
<line x1="776.23" y1="370.71" x2="776.23" y2="404.31" stroke-width="6.5"/>
<line class="w" x1="729.87" y1="387.51" x2="757.69" y2="387.51"/>
<line class="w" x1="804.05" y1="387.51" x2="785.5" y2="387.51"/>
<line class="c" x1="729.87" y1="378.91" x2="729.87" y2="396.11"/>
<line class="c" x1="804.05" y1="378.91" x2="804.05" y2="396.11"/>
<rect x="757.69" y="370.71" width="27.82" height="33.6" stroke-linejoin="round"/>
<circle class="o" cx="859.68" cy="387.51" r="3.2"/>
<line x1="748.41" y1="414.84" x2="748.41" y2="444.04" stroke-width="5.6" stroke-linecap="round"/>
<rect x="766.96" y="454.57" width="55.63" height="33.6" fill="rgba(255,165,0,0.2)" stroke="none"/>
<line x1="794.78" y1="454.57" x2="794.78" y2="488.17" stroke-width="6.5"/>
<line class="w" x1="757.69" y1="471.37" x2="766.96" y2="471.37"/>
<line class="w" x1="878.23" y1="471.37" x2="822.6" y2="471.37"/>
<line class="c" x1="757.69" y1="462.77" x2="757.69" y2="479.97"/>
<line class="c" x1="878.23" y1="462.77" x2="878.23" y2="479.97"/>
<rect x="766.96" y="454.57" width="55.63" height="33.6" stroke-linejoin="round"/>
<rect x="748.41" y="496.5" width="37.09" height="33.6" fill="rgba(255,165,0,0.2)" stroke="none"/>
<line x1="766.96" y1="496.5" x2="766.96" y2="530.1" stroke-width="6.5"/>
<line class="w" x1="739.14" y1="513.3" x2="748.41" y2="513.3"/>
<line class="w" x1="804.05" y1="513.3" x2="785.5" y2="513.3"/>
<line class="c" x1="739.14" y1="504.7" x2="739.14" y2="521.9"/>
<line class="c" x1="804.05" y1="504.7" x2="804.05" y2="521.9"/>
<rect x="748.41" y="496.5" width="37.09" height="33.6" stroke-linejoin="round"/>
<rect x="757.69" y="538.43" width="64.91" height="33.6" fill="rgba(255,165,0,0.2)" stroke="none"/>
<line x1="780.87" y1="538.43" x2="780.87" y2="572.03" stroke-width="6.5"/>
<line class="w" x1="831.87" y1="555.23" x2="822.6" y2="555.23"/>
<line class="c" x1="757.69" y1="546.63" x2="757.69" y2="563.83"/>
<line class="c" x1="831.87" y1="546.63" x2="831.87" y2="563.83"/>
<rect x="757.69" y="538.43" width="64.91" height="33.6" stroke-linejoin="round"/>
<rect x="757.69" y="622.29" width="37.09" height="33.6" fill="rgba(255,165,0,0.2)" stroke="none"/>
<line x1="766.96" y1="622.29" x2="766.96" y2="655.89" stroke-width="6.5"/>
<line class="w" x1="739.14" y1="639.09" x2="757.69" y2="639.09"/>
<line class="w" x1="841.14" y1="639.09" x2="794.78" y2="639.09"/>
<line class="c" x1="739.14" y1="630.49" x2="739.14" y2="647.69"/>
<line class="c" x1="841.14" y1="630.49" x2="841.14" y2="647.69"/>
<rect x="757.69" y="622.29" width="37.09" height="33.6" stroke-linejoin="round"/>
<rect x="752.59" y="664.22" width="65.37" height="33.6" fill="rgba(255,165,0,0.2)" stroke="none"/>
<line x1="771.6" y1="664.22" x2="771.6" y2="697.82" stroke-width="6.5"/>
<line class="w" x1="729.87" y1="681.02" x2="752.59" y2="681.02"/>
<line class="w" x1="868.96" y1="681.02" x2="817.96" y2="681.02"/>
<line class="c" x1="729.87" y1="672.42" x2="729.87" y2="689.62"/>
<line class="c" x1="868.96" y1="672.42" x2="868.96" y2="689.62"/>
<rect x="752.59" y="664.22" width="65.37" height="33.6" stroke-linejoin="round"/>
<rect x="746.1" y="706.15" width="44.04" height="33.6" fill="rgba(255,165,0,0.2)" stroke="none"/>
<line x1="748.41" y1="706.15" x2="748.41" y2="739.75" stroke-width="6.5"/>
<line class="w" x1="739.14" y1="722.95" x2="746.1" y2="722.95"/>
<line class="w" x1="813.32" y1="722.95" x2="790.14" y2="722.95"/>
<line class="c" x1="739.14" y1="714.35" x2="739.14" y2="731.55"/>
<line class="c" x1="813.32" y1="714.35" x2="813.32" y2="731.55"/>
<rect x="746.1" y="706.15" width="44.04" height="33.6" stroke-linejoin="round"/>
</g>
<rect x="711.6" y="46.7" width="503.4" height="724.4" fill="none" stroke="#0d0d0d" stroke-width="2.3" stroke-linejoin="round"/>
<path d="M785.5 771.1v12.9M878.2 771.1v12.9M971 771.1v12.9M1063.7 771.1v12.9M1156.4 771.1v12.9" stroke="#0d0d0d" stroke-width="2.3" stroke-linecap="round" fill="none"/>
<text transform="translate(785.5 815.9) scale(0.94 1)" text-anchor="middle" font-size="22" font-weight="normal">0.1</text>
<text transform="translate(878.2 815.9) scale(0.94 1)" text-anchor="middle" font-size="22" font-weight="normal">0.2</text>
<text transform="translate(971 815.9) scale(0.94 1)" text-anchor="middle" font-size="22" font-weight="normal">0.3</text>
<text transform="translate(1063.7 815.9) scale(0.94 1)" text-anchor="middle" font-size="22" font-weight="normal">0.4</text>
<text transform="translate(1156.4 815.9) scale(0.94 1)" text-anchor="middle" font-size="22" font-weight="normal">0.5</text>
<text transform="translate(961.7 859.9) scale(0.93 1)" text-anchor="middle" font-size="22.6" font-weight="normal">a325 (m<tspan dy="-10.62" dx="1.6" font-size="13.11">−</tspan><tspan font-size="14.46" dx="0.3">1</tspan><tspan dy="10.62" dx="2.2">)</tspan></text>
<text transform="translate(698.3 24.1) scale(0.95 1)" text-anchor="start" font-size="30.3" font-weight="bold" fill="#000" stroke="none">B</text>
</g>
<g id="panelC">
<g class="n" stroke="#cdad00" stroke-width="2.1" fill="none">
<rect x="1421.43" y="75.5" width="140.44" height="33.6" fill="rgba(205,173,0,0.2)" stroke="none"/>
<line x1="1507.38" y1="75.5" x2="1507.38" y2="109.1" stroke-width="6.5"/>
<line class="w" x1="1320.54" y1="92.3" x2="1421.43" y2="92.3"/>
<line class="w" x1="1647.51" y1="92.3" x2="1561.88" y2="92.3"/>
<line class="c" x1="1320.54" y1="83.7" x2="1320.54" y2="100.9"/>
<line class="c" x1="1647.51" y1="83.7" x2="1647.51" y2="100.9"/>
<rect x="1421.43" y="75.5" width="140.44" height="33.6" stroke-linejoin="round"/>
<rect x="1382.82" y="117.43" width="46.71" height="33.6" fill="rgba(205,173,0,0.2)" stroke="none"/>
<line x1="1398.39" y1="117.43" x2="1398.39" y2="151.03" stroke-width="6.5"/>
<line class="w" x1="1320.54" y1="134.23" x2="1382.82" y2="134.23"/>
<line class="w" x1="1445.1" y1="134.23" x2="1429.53" y2="134.23"/>
<line class="c" x1="1320.54" y1="125.63" x2="1320.54" y2="142.83"/>
<line class="c" x1="1445.1" y1="125.63" x2="1445.1" y2="142.83"/>
<rect x="1382.82" y="117.43" width="46.71" height="33.6" stroke-linejoin="round"/>
<ellipse class="o" cx="1554.09" cy="134.23" rx="2.82" ry="3.33"/>
<ellipse class="o" cx="1569.66" cy="134.23" rx="2.82" ry="3.33"/>
<rect x="1554.09" y="159.36" width="140.13" height="33.6" fill="rgba(205,173,0,0.2)" stroke="none"/>
<line x1="1631.94" y1="159.36" x2="1631.94" y2="192.96" stroke-width="6.5"/>
<line class="w" x1="1491.81" y1="176.16" x2="1554.09" y2="176.16"/>
<line class="w" x1="1756.5" y1="176.16" x2="1694.22" y2="176.16"/>
<line class="c" x1="1491.81" y1="167.56" x2="1491.81" y2="184.76"/>
<line class="c" x1="1756.5" y1="167.56" x2="1756.5" y2="184.76"/>
<rect x="1554.09" y="159.36" width="140.13" height="33.6" stroke-linejoin="round"/>
<rect x="1546.31" y="201.29" width="93.42" height="33.6" fill="rgba(205,173,0,0.2)" stroke="none"/>
<line x1="1616.37" y1="201.29" x2="1616.37" y2="234.89" stroke-width="6.5"/>
<line class="w" x1="1429.53" y1="218.09" x2="1546.31" y2="218.09"/>
<line class="w" x1="1694.22" y1="218.09" x2="1639.73" y2="218.09"/>
<line class="c" x1="1429.53" y1="209.49" x2="1429.53" y2="226.69"/>
<line class="c" x1="1694.22" y1="209.49" x2="1694.22" y2="226.69"/>
<rect x="1546.31" y="201.29" width="93.42" height="33.6" stroke-linejoin="round"/>
<rect x="1445.1" y="243.22" width="77.85" height="33.6" fill="rgba(205,173,0,0.2)" stroke="none"/>
<line x1="1476.24" y1="243.22" x2="1476.24" y2="276.82" stroke-width="6.5"/>
<line class="w" x1="1367.25" y1="260.02" x2="1445.1" y2="260.02"/>
<line class="w" x1="1631.94" y1="260.02" x2="1522.95" y2="260.02"/>
<line class="c" x1="1367.25" y1="251.42" x2="1367.25" y2="268.62"/>
<line class="c" x1="1631.94" y1="251.42" x2="1631.94" y2="268.62"/>
<rect x="1445.1" y="243.22" width="77.85" height="33.6" stroke-linejoin="round"/>
<line x1="1554.09" y1="287.35" x2="1554.09" y2="316.55" stroke-width="5.6" stroke-linecap="round"/>
<rect x="1429.53" y="369.01" width="108.99" height="33.6" fill="rgba(205,173,0,0.2)" stroke="none"/>
<line x1="1476.24" y1="369.01" x2="1476.24" y2="402.61" stroke-width="6.5"/>
<line class="w" x1="1367.25" y1="385.81" x2="1429.53" y2="385.81"/>
<line class="w" x1="1647.51" y1="385.81" x2="1538.52" y2="385.81"/>
<line class="c" x1="1367.25" y1="377.21" x2="1367.25" y2="394.41"/>
<line class="c" x1="1647.51" y1="377.21" x2="1647.51" y2="394.41"/>
<rect x="1429.53" y="369.01" width="108.99" height="33.6" stroke-linejoin="round"/>
<line x1="1491.81" y1="413.14" x2="1491.81" y2="442.34" stroke-width="5.6" stroke-linecap="round"/>
<rect x="1460.67" y="452.87" width="62.28" height="33.6" fill="rgba(205,173,0,0.2)" stroke="none"/>
<line x1="1476.24" y1="452.87" x2="1476.24" y2="486.47" stroke-width="6.5"/>
<line class="w" x1="1429.53" y1="469.67" x2="1460.67" y2="469.67"/>
<line class="w" x1="1538.52" y1="469.67" x2="1522.95" y2="469.67"/>
<line class="c" x1="1429.53" y1="461.07" x2="1429.53" y2="478.27"/>
<line class="c" x1="1538.52" y1="461.07" x2="1538.52" y2="478.27"/>
<rect x="1460.67" y="452.87" width="62.28" height="33.6" stroke-linejoin="round"/>
<ellipse class="o" cx="1351.68" cy="469.67" rx="2.82" ry="3.33"/>
<rect x="1460.67" y="494.8" width="46.71" height="33.6" fill="rgba(205,173,0,0.2)" stroke="none"/>
<line x1="1476.24" y1="494.8" x2="1476.24" y2="528.4" stroke-width="6.5"/>
<line class="w" x1="1429.53" y1="511.6" x2="1460.67" y2="511.6"/>
<line class="w" x1="1554.09" y1="511.6" x2="1507.38" y2="511.6"/>
<line class="c" x1="1429.53" y1="503" x2="1429.53" y2="520.2"/>
<line class="c" x1="1554.09" y1="503" x2="1554.09" y2="520.2"/>
<rect x="1460.67" y="494.8" width="46.71" height="33.6" stroke-linejoin="round"/>
<ellipse class="o" cx="1367.25" cy="511.6" rx="2.82" ry="3.33"/>
<ellipse class="o" cx="1678.65" cy="511.6" rx="2.82" ry="3.33"/>
<rect x="1460.67" y="536.73" width="62.28" height="33.6" fill="rgba(205,173,0,0.2)" stroke="none"/>
<line x1="1476.24" y1="536.73" x2="1476.24" y2="570.33" stroke-width="6.5"/>
<line class="w" x1="1398.39" y1="553.53" x2="1460.67" y2="553.53"/>
<line class="w" x1="1569.66" y1="553.53" x2="1522.95" y2="553.53"/>
<line class="c" x1="1398.39" y1="544.93" x2="1398.39" y2="562.13"/>
<line class="c" x1="1569.66" y1="544.93" x2="1569.66" y2="562.13"/>
<rect x="1460.67" y="536.73" width="62.28" height="33.6" stroke-linejoin="round"/>
<rect x="1437.32" y="620.59" width="46.71" height="33.6" fill="rgba(205,173,0,0.2)" stroke="none"/>
<line x1="1445.1" y1="620.59" x2="1445.1" y2="654.19" stroke-width="6.5"/>
<line class="w" x1="1398.39" y1="637.39" x2="1437.32" y2="637.39"/>
<line class="w" x1="1538.52" y1="637.39" x2="1484.03" y2="637.39"/>
<line class="c" x1="1398.39" y1="628.79" x2="1398.39" y2="645.99"/>
<line class="c" x1="1538.52" y1="628.79" x2="1538.52" y2="645.99"/>
<rect x="1437.32" y="620.59" width="46.71" height="33.6" stroke-linejoin="round"/>
<ellipse class="o" cx="1554.09" cy="637.39" rx="2.82" ry="3.33"/>
<ellipse class="o" cx="1663.08" cy="637.39" rx="2.82" ry="3.33"/>
<rect x="1476.24" y="662.52" width="77.85" height="33.6" fill="rgba(205,173,0,0.2)" stroke="none"/>
<line x1="1522.95" y1="662.52" x2="1522.95" y2="696.12" stroke-width="6.5"/>
<line class="w" x1="1413.96" y1="679.32" x2="1476.24" y2="679.32"/>
<line class="w" x1="1631.94" y1="679.32" x2="1554.09" y2="679.32"/>
<line class="c" x1="1413.96" y1="670.72" x2="1413.96" y2="687.92"/>
<line class="c" x1="1631.94" y1="670.72" x2="1631.94" y2="687.92"/>
<rect x="1476.24" y="662.52" width="77.85" height="33.6" stroke-linejoin="round"/>
<rect x="1406.18" y="704.45" width="15.57" height="33.6" fill="rgba(205,173,0,0.2)" stroke="none"/>
<line x1="1413.96" y1="704.45" x2="1413.96" y2="738.05" stroke-width="6.5"/>
<line class="w" x1="1398.39" y1="721.25" x2="1406.18" y2="721.25"/>
<line class="w" x1="1429.53" y1="721.25" x2="1421.75" y2="721.25"/>
<line class="c" x1="1398.39" y1="712.65" x2="1398.39" y2="729.85"/>
<line class="c" x1="1429.53" y1="712.65" x2="1429.53" y2="729.85"/>
<rect x="1406.18" y="704.45" width="15.57" height="33.6" stroke-linejoin="round"/>
<ellipse class="o" cx="1351.68" cy="721.25" rx="2.82" ry="3.33"/>
</g>
<g class="n" stroke="#ffd700" stroke-width="2.1" fill="none">
<rect x="1351.68" y="75.5" width="54.96" height="33.6" fill="rgba(255,215,0,0.2)" stroke="none"/>
<line x1="1382.82" y1="75.5" x2="1382.82" y2="109.1" stroke-width="6.5"/>
<line class="w" x1="1320.54" y1="92.3" x2="1351.68" y2="92.3"/>
<line class="w" x1="1445.1" y1="92.3" x2="1406.64" y2="92.3"/>
<line class="c" x1="1320.54" y1="83.7" x2="1320.54" y2="100.9"/>
<line class="c" x1="1445.1" y1="83.7" x2="1445.1" y2="100.9"/>
<rect x="1351.68" y="75.5" width="54.96" height="33.6" stroke-linejoin="round"/>
<rect x="1320.54" y="117.43" width="31.14" height="33.6" fill="rgba(255,215,0,0.2)" stroke="none"/>
<line x1="1336.11" y1="117.43" x2="1336.11" y2="151.03" stroke-width="6.5"/>
<line class="w" x1="1304.97" y1="134.23" x2="1320.54" y2="134.23"/>
<line class="w" x1="1382.82" y1="134.23" x2="1351.68" y2="134.23"/>
<line class="c" x1="1304.97" y1="125.63" x2="1304.97" y2="142.83"/>
<line class="c" x1="1382.82" y1="125.63" x2="1382.82" y2="142.83"/>
<rect x="1320.54" y="117.43" width="31.14" height="33.6" stroke-linejoin="round"/>
<ellipse class="o" cx="1413.96" cy="134.23" rx="2.82" ry="3.33"/>
<rect x="1413.96" y="159.36" width="31.14" height="33.6" fill="rgba(255,215,0,0.2)" stroke="none"/>
<line x1="1429.53" y1="159.36" x2="1429.53" y2="192.96" stroke-width="6.5"/>
<line class="w" x1="1367.25" y1="176.16" x2="1413.96" y2="176.16"/>
<line class="w" x1="1476.24" y1="176.16" x2="1445.1" y2="176.16"/>
<line class="c" x1="1367.25" y1="167.56" x2="1367.25" y2="184.76"/>
<line class="c" x1="1476.24" y1="167.56" x2="1476.24" y2="184.76"/>
<rect x="1413.96" y="159.36" width="31.14" height="33.6" stroke-linejoin="round"/>
<ellipse class="o" cx="1351.68" cy="176.16" rx="2.82" ry="3.33"/>
<ellipse class="o" cx="1507.38" cy="176.16" rx="2.82" ry="3.33"/>
<rect x="1390.61" y="201.29" width="38.93" height="33.6" fill="rgba(255,215,0,0.2)" stroke="none"/>
<line x1="1398.39" y1="201.29" x2="1398.39" y2="234.89" stroke-width="6.5"/>
<line class="w" x1="1351.68" y1="218.09" x2="1390.61" y2="218.09"/>
<line class="w" x1="1460.67" y1="218.09" x2="1429.53" y2="218.09"/>
<line class="c" x1="1351.68" y1="209.49" x2="1351.68" y2="226.69"/>
<line class="c" x1="1460.67" y1="209.49" x2="1460.67" y2="226.69"/>
<rect x="1390.61" y="201.29" width="38.93" height="33.6" stroke-linejoin="round"/>
<rect x="1351.68" y="243.22" width="31.14" height="33.6" fill="rgba(255,215,0,0.2)" stroke="none"/>
<line x1="1367.25" y1="243.22" x2="1367.25" y2="276.82" stroke-width="6.5"/>
<line class="w" x1="1320.54" y1="260.02" x2="1351.68" y2="260.02"/>
<line class="w" x1="1413.96" y1="260.02" x2="1382.82" y2="260.02"/>
<line class="c" x1="1320.54" y1="251.42" x2="1320.54" y2="268.62"/>
<line class="c" x1="1413.96" y1="251.42" x2="1413.96" y2="268.62"/>
<rect x="1351.68" y="243.22" width="31.14" height="33.6" stroke-linejoin="round"/>
<line x1="1382.82" y1="287.35" x2="1382.82" y2="316.55" stroke-width="5.6" stroke-linecap="round"/>
<rect x="1349.19" y="369.01" width="18.06" height="33.6" fill="rgba(255,215,0,0.2)" stroke="none"/>
<line x1="1351.68" y1="369.01" x2="1351.68" y2="402.61" stroke-width="6.5"/>
<line class="w" x1="1336.11" y1="385.81" x2="1349.19" y2="385.81"/>
<line class="c" x1="1336.11" y1="377.21" x2="1336.11" y2="394.41"/>
<line class="c" x1="1367.25" y1="377.21" x2="1367.25" y2="394.41"/>
<rect x="1349.19" y="369.01" width="18.06" height="33.6" stroke-linejoin="round"/>
<ellipse class="o" cx="1320.54" cy="385.81" rx="2.82" ry="3.33"/>
<ellipse class="o" cx="1476.24" cy="385.81" rx="2.82" ry="3.33"/>
<line x1="1336.11" y1="413.14" x2="1336.11" y2="442.34" stroke-width="5.6" stroke-linecap="round"/>
<rect x="1351.68" y="452.87" width="62.28" height="33.6" fill="rgba(255,215,0,0.2)" stroke="none"/>
<line x1="1375.04" y1="452.87" x2="1375.04" y2="486.47" stroke-width="6.5"/>
<line class="w" x1="1320.54" y1="469.67" x2="1351.68" y2="469.67"/>
<line class="w" x1="1460.67" y1="469.67" x2="1413.96" y2="469.67"/>
<line class="c" x1="1320.54" y1="461.07" x2="1320.54" y2="478.27"/>
<line class="c" x1="1460.67" y1="461.07" x2="1460.67" y2="478.27"/>
<rect x="1351.68" y="452.87" width="62.28" height="33.6" stroke-linejoin="round"/>
<rect x="1336.11" y="494.8" width="31.14" height="33.6" fill="rgba(255,215,0,0.2)" stroke="none"/>
<line x1="1351.68" y1="494.8" x2="1351.68" y2="528.4" stroke-width="6.5"/>
<line class="w" x1="1320.54" y1="511.6" x2="1336.11" y2="511.6"/>
<line class="w" x1="1398.39" y1="511.6" x2="1367.25" y2="511.6"/>
<line class="c" x1="1320.54" y1="503" x2="1320.54" y2="520.2"/>
<line class="c" x1="1398.39" y1="503" x2="1398.39" y2="520.2"/>
<rect x="1336.11" y="494.8" width="31.14" height="33.6" stroke-linejoin="round"/>
<rect x="1336.11" y="536.73" width="77.85" height="33.6" fill="rgba(255,215,0,0.2)" stroke="none"/>
<line x1="1367.25" y1="536.73" x2="1367.25" y2="570.33" stroke-width="6.5"/>
<line class="w" x1="1320.54" y1="553.53" x2="1336.11" y2="553.53"/>
<line class="w" x1="1429.53" y1="553.53" x2="1413.96" y2="553.53"/>
<line class="c" x1="1320.54" y1="544.93" x2="1320.54" y2="562.13"/>
<line class="c" x1="1429.53" y1="544.93" x2="1429.53" y2="562.13"/>
<rect x="1336.11" y="536.73" width="77.85" height="33.6" stroke-linejoin="round"/>
<rect x="1336.11" y="620.59" width="38.92" height="33.6" fill="rgba(255,215,0,0.2)" stroke="none"/>
<line x1="1351.68" y1="620.59" x2="1351.68" y2="654.19" stroke-width="6.5"/>
<line class="w" x1="1320.54" y1="637.39" x2="1336.11" y2="637.39"/>
<line class="w" x1="1429.53" y1="637.39" x2="1375.04" y2="637.39"/>
<line class="c" x1="1320.54" y1="628.79" x2="1320.54" y2="645.99"/>
<line class="c" x1="1429.53" y1="628.79" x2="1429.53" y2="645.99"/>
<rect x="1336.11" y="620.59" width="38.92" height="33.6" stroke-linejoin="round"/>
<rect x="1336.11" y="662.52" width="54.49" height="33.6" fill="rgba(255,215,0,0.2)" stroke="none"/>
<line x1="1359.47" y1="662.52" x2="1359.47" y2="696.12" stroke-width="6.5"/>
<line class="w" x1="1320.54" y1="679.32" x2="1336.11" y2="679.32"/>
<line class="w" x1="1460.67" y1="679.32" x2="1390.61" y2="679.32"/>
<line class="c" x1="1320.54" y1="670.72" x2="1320.54" y2="687.92"/>
<line class="c" x1="1460.67" y1="670.72" x2="1460.67" y2="687.92"/>
<rect x="1336.11" y="662.52" width="54.49" height="33.6" stroke-linejoin="round"/>
<rect x="1328.33" y="704.45" width="46.71" height="33.6" fill="rgba(255,215,0,0.2)" stroke="none"/>
<line x1="1343.89" y1="704.45" x2="1343.89" y2="738.05" stroke-width="6.5"/>
<line class="w" x1="1320.54" y1="721.25" x2="1328.33" y2="721.25"/>
<line class="w" x1="1429.53" y1="721.25" x2="1375.04" y2="721.25"/>
<line class="c" x1="1320.54" y1="712.65" x2="1320.54" y2="729.85"/>
<line class="c" x1="1429.53" y1="712.65" x2="1429.53" y2="729.85"/>
<rect x="1328.33" y="704.45" width="46.71" height="33.6" stroke-linejoin="round"/>
</g>
<rect x="1274.7" y="46.7" width="503.3" height="725.3" fill="none" stroke="#0d0d0d" stroke-width="2.3" stroke-linejoin="round"/>
<path d="M1289.4 772v15M1367.3 772v15M1445.2 772v15M1522.9 772v15M1600.8 772v15M1678.7 772v15M1756.5 772v15" stroke="#0d0d0d" stroke-width="2.3" stroke-linecap="round" fill="none"/>
<text transform="translate(1289.4 819.6) scale(0.77 1)" text-anchor="middle" font-size="23.4" font-weight="normal">0.00</text>
<text transform="translate(1367.3 819.6) scale(0.77 1)" text-anchor="middle" font-size="23.4" font-weight="normal">0.05</text>
<text transform="translate(1445.2 819.6) scale(0.77 1)" text-anchor="middle" font-size="23.4" font-weight="normal">0.10</text>
<text transform="translate(1522.9 819.6) scale(0.77 1)" text-anchor="middle" font-size="23.4" font-weight="normal">0.15</text>
<text transform="translate(1600.8 819.6) scale(0.77 1)" text-anchor="middle" font-size="23.4" font-weight="normal">0.20</text>
<text transform="translate(1678.7 819.6) scale(0.77 1)" text-anchor="middle" font-size="23.4" font-weight="normal">0.25</text>
<text transform="translate(1756.5 819.6) scale(0.77 1)" text-anchor="middle" font-size="23.4" font-weight="normal">0.30</text>
<text transform="translate(1530.6 862.8) scale(0.8 1)" text-anchor="middle" font-size="23" font-weight="normal">a365 (m<tspan dy="-10.81" dx="1.6" font-size="13.34">−</tspan><tspan font-size="14.72" dx="0.3">1</tspan><tspan dy="10.81" dx="2.2">)</tspan></text>
<text transform="translate(1261.15 24.3) scale(0.94 1)" text-anchor="start" font-size="30.3" font-weight="bold" fill="#000" stroke="none">C</text>
</g>
<g id="panelD">
<g class="m" stroke="#ff0000" stroke-width="2.1" fill="none">
<rect x="376.7" y="974.9" width="7.3" height="33.6" fill="rgba(255,0,0,0.2)" stroke="none"/>
<line x1="380" y1="974.9" x2="380" y2="1008.5" stroke-width="6.5"/>
<line class="w" x1="388.7" y1="991.7" x2="384" y2="991.7"/>
<line class="c" x1="376.7" y1="983.1" x2="376.7" y2="1000.3"/>
<line class="c" x1="388.7" y1="983.1" x2="388.7" y2="1000.3"/>
<rect x="376.7" y="974.9" width="7.3" height="33.6" stroke-linejoin="round"/>
<circle class="o" cx="351" cy="991.7" r="3.2"/>
<circle class="o" cx="434.7" cy="991.7" r="3.2"/>
<rect x="364.7" y="1016.61" width="19" height="33.6" fill="rgba(255,0,0,0.2)" stroke="none"/>
<line x1="374" y1="1016.61" x2="374" y2="1050.21" stroke-width="6.5"/>
<line class="w" x1="336.7" y1="1033.41" x2="364.7" y2="1033.41"/>
<line class="w" x1="398" y1="1033.41" x2="383.7" y2="1033.41"/>
<line class="c" x1="336.7" y1="1024.81" x2="336.7" y2="1042.01"/>
<line class="c" x1="398" y1="1024.81" x2="398" y2="1042.01"/>
<rect x="364.7" y="1016.61" width="19" height="33.6" stroke-linejoin="round"/>
<circle class="o" cx="430" cy="1033.41" r="3.2"/>
<rect x="360" y="1058.32" width="47" height="33.6" fill="rgba(255,0,0,0.2)" stroke="none"/>
<line x1="386" y1="1058.32" x2="386" y2="1091.92" stroke-width="6.5"/>
<line class="w" x1="336.7" y1="1075.12" x2="360" y2="1075.12"/>
<line class="w" x1="416.3" y1="1075.12" x2="407" y2="1075.12"/>
<line class="c" x1="336.7" y1="1066.52" x2="336.7" y2="1083.72"/>
<line class="c" x1="416.3" y1="1066.52" x2="416.3" y2="1083.72"/>
<rect x="360" y="1058.32" width="47" height="33.6" stroke-linejoin="round"/>
<rect x="371.7" y="1100.03" width="20" height="33.6" fill="rgba(255,0,0,0.2)" stroke="none"/>
<line x1="388.7" y1="1100.03" x2="388.7" y2="1133.63" stroke-width="6.5"/>
<line class="w" x1="355.3" y1="1116.83" x2="371.7" y2="1116.83"/>
<line class="w" x1="393.3" y1="1116.83" x2="391.7" y2="1116.83"/>
<line class="c" x1="355.3" y1="1108.23" x2="355.3" y2="1125.43"/>
<line class="c" x1="393.3" y1="1108.23" x2="393.3" y2="1125.43"/>
<rect x="371.7" y="1100.03" width="20" height="33.6" stroke-linejoin="round"/>
<circle class="o" cx="471.7" cy="1116.83" r="3.2"/>
<rect x="369.3" y="1141.74" width="23.7" height="33.6" fill="rgba(255,0,0,0.2)" stroke="none"/>
<line x1="373.3" y1="1141.74" x2="373.3" y2="1175.34" stroke-width="6.5"/>
<line class="w" x1="350.7" y1="1158.54" x2="369.3" y2="1158.54"/>
<line class="w" x1="421" y1="1158.54" x2="393" y2="1158.54"/>
<line class="c" x1="350.7" y1="1149.94" x2="350.7" y2="1167.14"/>
<line class="c" x1="421" y1="1149.94" x2="421" y2="1167.14"/>
<rect x="369.3" y="1141.74" width="23.7" height="33.6" stroke-linejoin="round"/>
<circle class="o" cx="444" cy="1158.54" r="3.2"/>
<line x1="351" y1="1185.65" x2="351" y2="1214.85" stroke-width="5.6" stroke-linecap="round"/>
<rect x="378.7" y="1266.87" width="37.6" height="33.6" fill="rgba(255,0,0,0.2)" stroke="none"/>
<line x1="397.7" y1="1266.87" x2="397.7" y2="1300.47" stroke-width="6.5"/>
<line class="w" x1="327.7" y1="1283.67" x2="378.7" y2="1283.67"/>
<line class="w" x1="435" y1="1283.67" x2="416.3" y2="1283.67"/>
<line class="c" x1="327.7" y1="1275.07" x2="327.7" y2="1292.27"/>
<line class="c" x1="435" y1="1275.07" x2="435" y2="1292.27"/>
<rect x="378.7" y="1266.87" width="37.6" height="33.6" stroke-linejoin="round"/>
<circle class="o" cx="536.7" cy="1283.67" r="3.2"/>
<line x1="355.3" y1="1310.78" x2="355.3" y2="1339.98" stroke-width="5.6" stroke-linecap="round"/>
<rect x="383.3" y="1350.29" width="56.4" height="33.6" fill="rgba(255,0,0,0.2)" stroke="none"/>
<line x1="390.7" y1="1350.29" x2="390.7" y2="1383.89" stroke-width="6.5"/>
<line class="w" x1="360" y1="1367.09" x2="383.3" y2="1367.09"/>
<line class="w" x1="449" y1="1367.09" x2="439.7" y2="1367.09"/>
<line class="c" x1="360" y1="1358.49" x2="360" y2="1375.69"/>
<line class="c" x1="449" y1="1358.49" x2="449" y2="1375.69"/>
<rect x="383.3" y="1350.29" width="56.4" height="33.6" stroke-linejoin="round"/>
<rect x="383.3" y="1392" width="33" height="33.6" fill="rgba(255,0,0,0.2)" stroke="none"/>
<line x1="397.7" y1="1392" x2="397.7" y2="1425.6" stroke-width="6.5"/>
<line class="w" x1="355.7" y1="1408.8" x2="383.3" y2="1408.8"/>
<line class="w" x1="458" y1="1408.8" x2="416.3" y2="1408.8"/>
<line class="c" x1="355.7" y1="1400.2" x2="355.7" y2="1417.4"/>
<line class="c" x1="458" y1="1400.2" x2="458" y2="1417.4"/>
<rect x="383.3" y="1392" width="33" height="33.6" stroke-linejoin="round"/>
<circle class="o" cx="332.3" cy="1408.8" r="3.2"/>
<rect x="369.3" y="1433.71" width="56.4" height="33.6" fill="rgba(255,0,0,0.2)" stroke="none"/>
<line x1="407" y1="1433.71" x2="407" y2="1467.31" stroke-width="6.5"/>
<line class="w" x1="346.3" y1="1450.51" x2="369.3" y2="1450.51"/>
<line class="w" x1="430" y1="1450.51" x2="425.7" y2="1450.51"/>
<line class="c" x1="346.3" y1="1441.91" x2="346.3" y2="1459.11"/>
<line class="c" x1="430" y1="1441.91" x2="430" y2="1459.11"/>
<rect x="369.3" y="1433.71" width="56.4" height="33.6" stroke-linejoin="round"/>
<rect x="378.7" y="1517.13" width="54" height="33.6" fill="rgba(255,0,0,0.2)" stroke="none"/>
<line x1="411" y1="1517.13" x2="411" y2="1550.73" stroke-width="6.5"/>
<line class="w" x1="332.3" y1="1533.93" x2="378.7" y2="1533.93"/>
<line class="w" x1="481.7" y1="1533.93" x2="432.7" y2="1533.93"/>
<line class="c" x1="332.3" y1="1525.33" x2="332.3" y2="1542.53"/>
<line class="c" x1="481.7" y1="1525.33" x2="481.7" y2="1542.53"/>
<rect x="378.7" y="1517.13" width="54" height="33.6" stroke-linejoin="round"/>
<rect x="360.3" y="1558.84" width="46.7" height="33.6" fill="rgba(255,0,0,0.2)" stroke="none"/>
<line x1="379" y1="1558.84" x2="379" y2="1592.44" stroke-width="6.5"/>
<line class="w" x1="351" y1="1575.64" x2="360.3" y2="1575.64"/>
<line class="w" x1="444" y1="1575.64" x2="407" y2="1575.64"/>
<line class="c" x1="351" y1="1567.04" x2="351" y2="1584.24"/>
<line class="c" x1="444" y1="1567.04" x2="444" y2="1584.24"/>
<rect x="360.3" y="1558.84" width="46.7" height="33.6" stroke-linejoin="round"/>
<rect x="397.3" y="1600.55" width="77" height="33.6" fill="rgba(255,0,0,0.2)" stroke="none"/>
<line x1="425.3" y1="1600.55" x2="425.3" y2="1634.15" stroke-width="6.5"/>
<line class="w" x1="369.3" y1="1617.35" x2="397.3" y2="1617.35"/>
<line class="w" x1="500" y1="1617.35" x2="474.3" y2="1617.35"/>
<line class="c" x1="369.3" y1="1608.75" x2="369.3" y2="1625.95"/>
<line class="c" x1="500" y1="1608.75" x2="500" y2="1625.95"/>
<rect x="397.3" y="1600.55" width="77" height="33.6" stroke-linejoin="round"/>
</g>
<rect x="149" y="939" width="503.5" height="724.9" fill="none" stroke="#0d0d0d" stroke-width="2.3" stroke-linejoin="round"/>
<path d="M165.3 1663.9v13.5M258.3 1663.9v13.5M351.3 1663.9v13.5M444 1663.9v13.5M536.7 1663.9v13.5M629.7 1663.9v13.5" stroke="#0d0d0d" stroke-width="2.3" stroke-linecap="round" fill="none"/>
<text transform="translate(165.3 1709.1) scale(0.97 1)" text-anchor="middle" font-size="21.2" font-weight="normal">0.0</text>
<text transform="translate(258.3 1709.1) scale(0.97 1)" text-anchor="middle" font-size="21.2" font-weight="normal">0.2</text>
<text transform="translate(351.3 1709.1) scale(0.97 1)" text-anchor="middle" font-size="21.2" font-weight="normal">0.4</text>
<text transform="translate(444 1709.1) scale(0.97 1)" text-anchor="middle" font-size="21.2" font-weight="normal">0.6</text>
<text transform="translate(536.7 1709.1) scale(0.97 1)" text-anchor="middle" font-size="21.2" font-weight="normal">0.8</text>
<text transform="translate(629.7 1709.1) scale(0.97 1)" text-anchor="middle" font-size="21.2" font-weight="normal">1.0</text>
<text transform="translate(397.7 1757.8) scale(0.97 1)" text-anchor="middle" font-size="21.2" font-weight="normal">Extraction efficiency</text>
<path d="M149 992.8h-15.8M149 1034.51h-15.8M149 1076.22h-15.8M149 1117.93h-15.8M149 1159.64h-15.8M149 1201.35h-15.8M149 1243.06h-15.8M149 1284.77h-15.8M149 1326.48h-15.8M149 1368.19h-15.8M149 1409.9h-15.8M149 1451.61h-15.8M149 1493.32h-15.8M149 1535.03h-15.8M149 1576.74h-15.8M149 1618.45h-15.8" stroke="#0d0d0d" stroke-width="2.3" stroke-linecap="round" fill="none"/>
<text transform="translate(121 1000.4) scale(0.97 1)" text-anchor="end" font-size="21.2" font-weight="normal">SUP_S</text>
<text transform="translate(121 1042.11) scale(0.97 1)" text-anchor="end" font-size="21.2" font-weight="normal">SUP_N</text>
<text transform="translate(121 1083.82) scale(0.97 1)" text-anchor="end" font-size="21.2" font-weight="normal">CBGF</text>
<text transform="translate(121 1125.53) scale(0.97 1)" text-anchor="end" font-size="21.2" font-weight="normal">DCM_S</text>
<text transform="translate(121 1167.24) scale(0.97 1)" text-anchor="end" font-size="21.2" font-weight="normal">DCM_N</text>
<text transform="translate(121 1208.95) scale(0.97 1)" text-anchor="end" font-size="21.2" font-weight="normal">MMW</text>
<text transform="translate(121 1250.66) scale(0.97 1)" text-anchor="end" font-size="21.2" font-weight="normal">SACW_18</text>
<text transform="translate(121 1292.37) scale(0.97 1)" text-anchor="end" font-size="21.2" font-weight="normal">ENACW_15</text>
<text transform="translate(121 1334.08) scale(0.97 1)" text-anchor="end" font-size="21.2" font-weight="normal">SACW_12</text>
<text transform="translate(121 1375.79) scale(0.97 1)" text-anchor="end" font-size="21.2" font-weight="normal">ENACW_12</text>
<text transform="translate(121 1417.5) scale(0.97 1)" text-anchor="end" font-size="21.2" font-weight="normal">SPMW</text>
<text transform="translate(121 1459.21) scale(0.97 1)" text-anchor="end" font-size="21.2" font-weight="normal">AA</text>
<text transform="translate(121 1500.92) scale(0.97 1)" text-anchor="end" font-size="21.2" font-weight="normal">MW</text>
<text transform="translate(121 1542.63) scale(0.97 1)" text-anchor="end" font-size="21.2" font-weight="normal">LSW</text>
<text transform="translate(121 1584.34) scale(0.97 1)" text-anchor="end" font-size="21.2" font-weight="normal">UNEADW</text>
<text transform="translate(121 1626.05) scale(0.97 1)" text-anchor="end" font-size="21.2" font-weight="normal">LNEADW</text>
<text transform="translate(139.8 920) scale(0.97 1)" text-anchor="start" font-size="30.3" font-weight="bold" fill="#000" stroke="none">D</text>
</g>
<g id="panelE">
<g class="m" stroke="#ffa500" stroke-width="2.1" fill="none">
<rect x="931.3" y="974.5" width="44.4" height="33.6" fill="rgba(255,165,0,0.2)" stroke="none"/>
<line x1="952.3" y1="974.5" x2="952.3" y2="1008.1" stroke-width="6.5"/>
<line class="w" x1="915" y1="991.3" x2="931.3" y2="991.3"/>
<line class="w" x1="985" y1="991.3" x2="975.7" y2="991.3"/>
<line class="c" x1="915" y1="982.7" x2="915" y2="999.9"/>
<line class="c" x1="985" y1="982.7" x2="985" y2="999.9"/>
<rect x="931.3" y="974.5" width="44.4" height="33.6" stroke-linejoin="round"/>
<circle class="o" cx="794.3" cy="991.3" r="3.2"/>
<circle class="o" cx="1193.3" cy="991.3" r="3.2"/>
<rect x="887.3" y="1016.26" width="83.7" height="33.6" fill="rgba(255,165,0,0.2)" stroke="none"/>
<line x1="938.7" y1="1016.26" x2="938.7" y2="1049.86" stroke-width="6.5"/>
<line class="w" x1="864.3" y1="1033.06" x2="887.3" y2="1033.06"/>
<line class="w" x1="1050" y1="1033.06" x2="971" y2="1033.06"/>
<line class="c" x1="864.3" y1="1024.46" x2="864.3" y2="1041.66"/>
<line class="c" x1="1050" y1="1024.46" x2="1050" y2="1041.66"/>
<rect x="887.3" y="1016.26" width="83.7" height="33.6" stroke-linejoin="round"/>
<circle class="o" cx="1193.3" cy="1033.06" r="3.2"/>
<rect x="910.7" y="1058.02" width="60.3" height="33.6" fill="rgba(255,165,0,0.2)" stroke="none"/>
<line x1="938.7" y1="1058.02" x2="938.7" y2="1091.62" stroke-width="6.5"/>
<line class="w" x1="850" y1="1074.82" x2="910.7" y2="1074.82"/>
<line class="w" x1="1012.7" y1="1074.82" x2="971" y2="1074.82"/>
<line class="c" x1="850" y1="1066.22" x2="850" y2="1083.42"/>
<line class="c" x1="1012.7" y1="1066.22" x2="1012.7" y2="1083.42"/>
<rect x="910.7" y="1058.02" width="60.3" height="33.6" stroke-linejoin="round"/>
<rect x="898.7" y="1099.78" width="42" height="33.6" fill="rgba(255,165,0,0.2)" stroke="none"/>
<line x1="920" y1="1099.78" x2="920" y2="1133.38" stroke-width="6.5"/>
<line class="w" x1="882.7" y1="1116.58" x2="898.7" y2="1116.58"/>
<line class="w" x1="943" y1="1116.58" x2="940.7" y2="1116.58"/>
<line class="c" x1="882.7" y1="1107.98" x2="882.7" y2="1125.18"/>
<line class="c" x1="943" y1="1107.98" x2="943" y2="1125.18"/>
<rect x="898.7" y="1099.78" width="42" height="33.6" stroke-linejoin="round"/>
<circle class="o" cx="831.7" cy="1116.58" r="3.2"/>
<circle class="o" cx="1026.3" cy="1116.58" r="3.2"/>
<rect x="882.7" y="1141.54" width="88.3" height="33.6" fill="rgba(255,165,0,0.2)" stroke="none"/>
<line x1="910.7" y1="1141.54" x2="910.7" y2="1175.14" stroke-width="6.5"/>
<line class="w" x1="864.3" y1="1158.34" x2="882.7" y2="1158.34"/>
<line class="w" x1="1073.3" y1="1158.34" x2="971" y2="1158.34"/>
<line class="c" x1="864.3" y1="1149.74" x2="864.3" y2="1166.94"/>
<line class="c" x1="1073.3" y1="1149.74" x2="1073.3" y2="1166.94"/>
<rect x="882.7" y="1141.54" width="88.3" height="33.6" stroke-linejoin="round"/>
<line x1="952.3" y1="1185.5" x2="952.3" y2="1214.7" stroke-width="5.6" stroke-linecap="round"/>
<rect x="859.3" y="1266.82" width="79.4" height="33.6" fill="rgba(255,165,0,0.2)" stroke="none"/>
<line x1="896.7" y1="1266.82" x2="896.7" y2="1300.42" stroke-width="6.5"/>
<line class="w" x1="836.3" y1="1283.62" x2="859.3" y2="1283.62"/>
<line class="w" x1="985" y1="1283.62" x2="938.7" y2="1283.62"/>
<line class="c" x1="836.3" y1="1275.02" x2="836.3" y2="1292.22"/>
<line class="c" x1="985" y1="1275.02" x2="985" y2="1292.22"/>
<rect x="859.3" y="1266.82" width="79.4" height="33.6" stroke-linejoin="round"/>
<circle class="o" cx="1193.3" cy="1283.62" r="3.2"/>
<line x1="845.7" y1="1310.78" x2="845.7" y2="1339.98" stroke-width="5.6" stroke-linecap="round"/>
<rect x="906" y="1350.34" width="88.3" height="33.6" fill="rgba(255,165,0,0.2)" stroke="none"/>
<line x1="931.3" y1="1350.34" x2="931.3" y2="1383.94" stroke-width="6.5"/>
<line class="w" x1="864.3" y1="1367.14" x2="906" y2="1367.14"/>
<line class="w" x1="999" y1="1367.14" x2="994.3" y2="1367.14"/>
<line class="c" x1="864.3" y1="1358.54" x2="864.3" y2="1375.74"/>
<line class="c" x1="999" y1="1358.54" x2="999" y2="1375.74"/>
<rect x="906" y="1350.34" width="88.3" height="33.6" stroke-linejoin="round"/>
<circle class="o" cx="1193.3" cy="1367.14" r="3.2"/>
<rect x="859.3" y="1392.1" width="74.7" height="33.6" fill="rgba(255,165,0,0.2)" stroke="none"/>
<line x1="882.7" y1="1392.1" x2="882.7" y2="1425.7" stroke-width="6.5"/>
<line class="w" x1="817.7" y1="1408.9" x2="859.3" y2="1408.9"/>
<line class="w" x1="1022" y1="1408.9" x2="934" y2="1408.9"/>
<line class="c" x1="817.7" y1="1400.3" x2="817.7" y2="1417.5"/>
<line class="c" x1="1022" y1="1400.3" x2="1022" y2="1417.5"/>
<rect x="859.3" y="1392.1" width="74.7" height="33.6" stroke-linejoin="round"/>
<rect x="892" y="1433.86" width="70" height="33.6" fill="rgba(255,165,0,0.2)" stroke="none"/>
<line x1="947.7" y1="1433.86" x2="947.7" y2="1467.46" stroke-width="6.5"/>
<line class="w" x1="873.3" y1="1450.66" x2="892" y2="1450.66"/>
<line class="w" x1="1040.7" y1="1450.66" x2="962" y2="1450.66"/>
<line class="c" x1="873.3" y1="1442.06" x2="873.3" y2="1459.26"/>
<line class="c" x1="1040.7" y1="1442.06" x2="1040.7" y2="1459.26"/>
<rect x="892" y="1433.86" width="70" height="33.6" stroke-linejoin="round"/>
<rect x="873.3" y="1517.38" width="107.4" height="33.6" fill="rgba(255,165,0,0.2)" stroke="none"/>
<line x1="915" y1="1517.38" x2="915" y2="1550.98" stroke-width="6.5"/>
<line class="w" x1="831.7" y1="1534.18" x2="873.3" y2="1534.18"/>
<line class="w" x1="1082.7" y1="1534.18" x2="980.7" y2="1534.18"/>
<line class="c" x1="831.7" y1="1525.58" x2="831.7" y2="1542.78"/>
<line class="c" x1="1082.7" y1="1525.58" x2="1082.7" y2="1542.78"/>
<rect x="873.3" y="1517.38" width="107.4" height="33.6" stroke-linejoin="round"/>
<circle class="o" cx="1142.3" cy="1534.18" r="3.2"/>
<rect x="855" y="1559.14" width="70" height="33.6" fill="rgba(255,165,0,0.2)" stroke="none"/>
<line x1="896.7" y1="1559.14" x2="896.7" y2="1592.74" stroke-width="6.5"/>
<line class="w" x1="845.7" y1="1575.94" x2="855" y2="1575.94"/>
<line class="w" x1="1026.7" y1="1575.94" x2="925" y2="1575.94"/>
<line class="c" x1="845.7" y1="1567.34" x2="845.7" y2="1584.54"/>
<line class="c" x1="1026.7" y1="1567.34" x2="1026.7" y2="1584.54"/>
<rect x="855" y="1559.14" width="70" height="33.6" stroke-linejoin="round"/>
<rect x="880" y="1600.9" width="160.7" height="33.6" fill="rgba(255,165,0,0.2)" stroke="none"/>
<line x1="931.3" y1="1600.9" x2="931.3" y2="1634.5" stroke-width="6.5"/>
<line class="w" x1="859.3" y1="1617.7" x2="880" y2="1617.7"/>
<line class="w" x1="1077.7" y1="1617.7" x2="1040.7" y2="1617.7"/>
<line class="c" x1="859.3" y1="1609.1" x2="859.3" y2="1626.3"/>
<line class="c" x1="1077.7" y1="1609.1" x2="1077.7" y2="1626.3"/>
<rect x="880" y="1600.9" width="160.7" height="33.6" stroke-linejoin="round"/>
</g>
<rect x="711.4" y="937.3" width="503.3" height="725" fill="none" stroke="#0d0d0d" stroke-width="2.3" stroke-linejoin="round"/>
<path d="M730 1662.3v15M822.7 1662.3v15M915.3 1662.3v15M1008 1662.3v15M1100.7 1662.3v15M1193.3 1662.3v15" stroke="#0d0d0d" stroke-width="2.3" stroke-linecap="round" fill="none"/>
<text transform="translate(730 1708.7) scale(0.97 1)" text-anchor="middle" font-size="21.2" font-weight="normal">0.0</text>
<text transform="translate(822.7 1708.7) scale(0.97 1)" text-anchor="middle" font-size="21.2" font-weight="normal">0.2</text>
<text transform="translate(915.3 1708.7) scale(0.97 1)" text-anchor="middle" font-size="21.2" font-weight="normal">0.4</text>
<text transform="translate(1008 1708.7) scale(0.97 1)" text-anchor="middle" font-size="21.2" font-weight="normal">0.6</text>
<text transform="translate(1100.7 1708.7) scale(0.97 1)" text-anchor="middle" font-size="21.2" font-weight="normal">0.8</text>
<text transform="translate(1193.3 1708.7) scale(0.97 1)" text-anchor="middle" font-size="21.2" font-weight="normal">1.0</text>
<text transform="translate(961.7 1757.8) scale(0.97 1)" text-anchor="middle" font-size="21.2" font-weight="normal">Extraction efficiency</text>
<text transform="translate(698.8 920) scale(0.9 1)" text-anchor="start" font-size="30.3" font-weight="bold" fill="#000" stroke="none">E</text>
</g>
<g id="panelF">
<g class="n" stroke="#ffd700" stroke-width="2.1" fill="none">
<rect x="1488.7" y="972.9" width="44.3" height="33.6" fill="rgba(255,215,0,0.2)" stroke="none"/>
<line x1="1500.3" y1="972.9" x2="1500.3" y2="1006.5" stroke-width="6.5"/>
<line class="w" x1="1487" y1="989.7" x2="1488.7" y2="989.7"/>
<line class="w" x1="1547.3" y1="989.7" x2="1533" y2="989.7"/>
<line class="c" x1="1487" y1="981.1" x2="1487" y2="998.3"/>
<line class="c" x1="1547.3" y1="981.1" x2="1547.3" y2="998.3"/>
<rect x="1488.7" y="972.9" width="44.3" height="33.6" stroke-linejoin="round"/>
<ellipse class="o" cx="1333.7" cy="989.7" rx="2.82" ry="3.33"/>
<ellipse class="o" cx="1755.3" cy="989.7" rx="2.82" ry="3.33"/>
<rect x="1440" y="1014.63" width="107" height="33.6" fill="rgba(255,215,0,0.2)" stroke="none"/>
<line x1="1500.3" y1="1014.63" x2="1500.3" y2="1048.23" stroke-width="6.5"/>
<line class="w" x1="1361.3" y1="1031.43" x2="1440" y2="1031.43"/>
<line class="w" x1="1584.3" y1="1031.43" x2="1547" y2="1031.43"/>
<line class="c" x1="1361.3" y1="1022.83" x2="1361.3" y2="1040.03"/>
<line class="c" x1="1584.3" y1="1022.83" x2="1584.3" y2="1040.03"/>
<rect x="1440" y="1014.63" width="107" height="33.6" stroke-linejoin="round"/>
<ellipse class="o" cx="1755.3" cy="1031.43" rx="2.82" ry="3.33"/>
<rect x="1449" y="1056.36" width="88.7" height="33.6" fill="rgba(255,215,0,0.2)" stroke="none"/>
<line x1="1470" y1="1056.36" x2="1470" y2="1089.96" stroke-width="6.5"/>
<line class="w" x1="1398.3" y1="1073.16" x2="1449" y2="1073.16"/>
<line class="w" x1="1575" y1="1073.16" x2="1537.7" y2="1073.16"/>
<line class="c" x1="1398.3" y1="1064.56" x2="1398.3" y2="1081.76"/>
<line class="c" x1="1575" y1="1064.56" x2="1575" y2="1081.76"/>
<rect x="1449" y="1056.36" width="88.7" height="33.6" stroke-linejoin="round"/>
<rect x="1458.3" y="1098.09" width="53.7" height="33.6" fill="rgba(255,215,0,0.2)" stroke="none"/>
<line x1="1495.7" y1="1098.09" x2="1495.7" y2="1131.69" stroke-width="6.5"/>
<line class="w" x1="1435.7" y1="1114.89" x2="1458.3" y2="1114.89"/>
<line class="w" x1="1523.7" y1="1114.89" x2="1512" y2="1114.89"/>
<line class="c" x1="1435.7" y1="1106.29" x2="1435.7" y2="1123.49"/>
<line class="c" x1="1523.7" y1="1106.29" x2="1523.7" y2="1123.49"/>
<rect x="1458.3" y="1098.09" width="53.7" height="33.6" stroke-linejoin="round"/>
<ellipse class="o" cx="1361.3" cy="1114.89" rx="2.82" ry="3.33"/>
<ellipse class="o" cx="1607" cy="1114.89" rx="2.82" ry="3.33"/>
<rect x="1440" y="1139.82" width="88.7" height="33.6" fill="rgba(255,215,0,0.2)" stroke="none"/>
<line x1="1454" y1="1139.82" x2="1454" y2="1173.42" stroke-width="6.5"/>
<line class="w" x1="1393.7" y1="1156.62" x2="1440" y2="1156.62"/>
<line class="w" x1="1649.3" y1="1156.62" x2="1528.7" y2="1156.62"/>
<line class="c" x1="1393.7" y1="1148.02" x2="1393.7" y2="1165.22"/>
<line class="c" x1="1649.3" y1="1148.02" x2="1649.3" y2="1165.22"/>
<rect x="1440" y="1139.82" width="88.7" height="33.6" stroke-linejoin="round"/>
<ellipse class="o" cx="1695.3" cy="1156.62" rx="2.82" ry="3.33"/>
<line x1="1467.7" y1="1183.75" x2="1467.7" y2="1212.95" stroke-width="5.6" stroke-linecap="round"/>
<rect x="1407.7" y="1265.01" width="97.6" height="33.6" fill="rgba(255,215,0,0.2)" stroke="none"/>
<line x1="1426" y1="1265.01" x2="1426" y2="1298.61" stroke-width="6.5"/>
<line class="w" x1="1370.7" y1="1281.81" x2="1407.7" y2="1281.81"/>
<line class="w" x1="1644.7" y1="1281.81" x2="1505.3" y2="1281.81"/>
<line class="c" x1="1370.7" y1="1273.21" x2="1370.7" y2="1290.41"/>
<line class="c" x1="1644.7" y1="1273.21" x2="1644.7" y2="1290.41"/>
<rect x="1407.7" y="1265.01" width="97.6" height="33.6" stroke-linejoin="round"/>
<ellipse class="o" cx="1755.3" cy="1281.81" rx="2.82" ry="3.33"/>
<line x1="1384.3" y1="1308.94" x2="1384.3" y2="1338.14" stroke-width="5.6" stroke-linecap="round"/>
<rect x="1440" y="1348.47" width="79" height="33.6" fill="rgba(255,215,0,0.2)" stroke="none"/>
<line x1="1465.3" y1="1348.47" x2="1465.3" y2="1382.07" stroke-width="6.5"/>
<line class="w" x1="1407.7" y1="1365.27" x2="1440" y2="1365.27"/>
<line class="w" x1="1603" y1="1365.27" x2="1519" y2="1365.27"/>
<line class="c" x1="1407.7" y1="1356.67" x2="1407.7" y2="1373.87"/>
<line class="c" x1="1603" y1="1356.67" x2="1603" y2="1373.87"/>
<rect x="1440" y="1348.47" width="79" height="33.6" stroke-linejoin="round"/>
<ellipse class="o" cx="1755.3" cy="1365.27" rx="2.82" ry="3.33"/>
<rect x="1417" y="1390.2" width="83.7" height="33.6" fill="rgba(255,215,0,0.2)" stroke="none"/>
<line x1="1444.7" y1="1390.2" x2="1444.7" y2="1423.8" stroke-width="6.5"/>
<line class="w" x1="1375" y1="1407" x2="1417" y2="1407"/>
<line class="w" x1="1603" y1="1407" x2="1500.7" y2="1407"/>
<line class="c" x1="1375" y1="1398.4" x2="1375" y2="1415.6"/>
<line class="c" x1="1603" y1="1398.4" x2="1603" y2="1415.6"/>
<rect x="1417" y="1390.2" width="83.7" height="33.6" stroke-linejoin="round"/>
<ellipse class="o" cx="1653.3" cy="1407" rx="2.82" ry="3.33"/>
<rect x="1430.7" y="1431.93" width="84" height="33.6" fill="rgba(255,215,0,0.2)" stroke="none"/>
<line x1="1493.3" y1="1431.93" x2="1493.3" y2="1465.53" stroke-width="6.5"/>
<line class="w" x1="1384.3" y1="1448.73" x2="1430.7" y2="1448.73"/>
<line class="c" x1="1384.3" y1="1440.13" x2="1384.3" y2="1457.33"/>
<line class="c" x1="1514.7" y1="1440.13" x2="1514.7" y2="1457.33"/>
<rect x="1430.7" y="1431.93" width="84" height="33.6" stroke-linejoin="round"/>
<ellipse class="o" cx="1662.7" cy="1448.73" rx="2.82" ry="3.33"/>
<rect x="1416.7" y="1515.39" width="123.6" height="33.6" fill="rgba(255,215,0,0.2)" stroke="none"/>
<line x1="1440" y1="1515.39" x2="1440" y2="1548.99" stroke-width="6.5"/>
<line class="w" x1="1365.7" y1="1532.19" x2="1416.7" y2="1532.19"/>
<line class="w" x1="1714" y1="1532.19" x2="1540.3" y2="1532.19"/>
<line class="c" x1="1365.7" y1="1523.59" x2="1365.7" y2="1540.79"/>
<line class="c" x1="1714" y1="1523.59" x2="1714" y2="1540.79"/>
<rect x="1416.7" y="1515.39" width="123.6" height="33.6" stroke-linejoin="round"/>
<rect x="1391.3" y="1557.12" width="95.4" height="33.6" fill="rgba(255,215,0,0.2)" stroke="none"/>
<line x1="1407.7" y1="1557.12" x2="1407.7" y2="1590.72" stroke-width="6.5"/>
<line class="w" x1="1375" y1="1573.92" x2="1391.3" y2="1573.92"/>
<line class="w" x1="1598" y1="1573.92" x2="1486.7" y2="1573.92"/>
<line class="c" x1="1375" y1="1565.32" x2="1375" y2="1582.52"/>
<line class="c" x1="1598" y1="1565.32" x2="1598" y2="1582.52"/>
<rect x="1391.3" y="1557.12" width="95.4" height="33.6" stroke-linejoin="round"/>
<rect x="1416.7" y="1598.85" width="265" height="33.6" fill="rgba(255,215,0,0.2)" stroke="none"/>
<line x1="1521" y1="1598.85" x2="1521" y2="1632.45" stroke-width="6.5"/>
<line class="w" x1="1398.3" y1="1615.65" x2="1416.7" y2="1615.65"/>
<line class="w" x1="1695.7" y1="1615.65" x2="1681.7" y2="1615.65"/>
<line class="c" x1="1398.3" y1="1607.05" x2="1398.3" y2="1624.25"/>
<line class="c" x1="1695.7" y1="1607.05" x2="1695.7" y2="1624.25"/>
<rect x="1416.7" y="1598.85" width="265" height="33.6" stroke-linejoin="round"/>
</g>
<rect x="1274.7" y="936" width="503.2" height="725.1" fill="none" stroke="#0d0d0d" stroke-width="2.3" stroke-linejoin="round"/>
<path d="M1292 1661.1v14.7M1384.7 1661.1v14.7M1477.3 1661.1v14.7M1570 1661.1v14.7M1662.6 1661.1v14.7M1755.3 1661.1v14.7" stroke="#0d0d0d" stroke-width="2.3" stroke-linecap="round" fill="none"/>
<text transform="translate(1292 1707.4) scale(0.86 1)" text-anchor="middle" font-size="21.5" font-weight="normal">0.0</text>
<text transform="translate(1384.7 1707.4) scale(0.86 1)" text-anchor="middle" font-size="21.5" font-weight="normal">0.2</text>
<text transform="translate(1477.3 1707.4) scale(0.86 1)" text-anchor="middle" font-size="21.5" font-weight="normal">0.4</text>
<text transform="translate(1570 1707.4) scale(0.86 1)" text-anchor="middle" font-size="21.5" font-weight="normal">0.6</text>
<text transform="translate(1662.6 1707.4) scale(0.86 1)" text-anchor="middle" font-size="21.5" font-weight="normal">0.8</text>
<text transform="translate(1755.3 1707.4) scale(0.86 1)" text-anchor="middle" font-size="21.5" font-weight="normal">1.0</text>
<text transform="translate(1523.7 1756.8) scale(0.88 1)" text-anchor="middle" font-size="21" font-weight="normal">Extraction efficiency</text>
<text transform="translate(1261.2 920) scale(0.9 1)" text-anchor="start" font-size="30.3" font-weight="bold" fill="#000" stroke="none">F</text>
</g>
</svg>
</body>
</html>
